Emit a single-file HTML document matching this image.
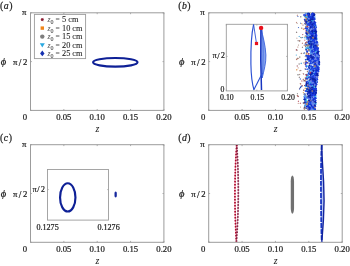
<!DOCTYPE html>
<html><head><meta charset="utf-8"><style>
html,body{margin:0;padding:0;background:#fff;}
svg{display:block;will-change:transform;font-family:"Liberation Serif",serif;}
text{stroke:#222;stroke-width:0.22px;}
</style></head><body>
<svg width="350" height="266" viewBox="0 0 350 266">
<rect width="350" height="266" fill="#fff"/>
<g>
<rect width="350" height="266" fill="#fff"/>
<rect x="30.5" y="12.8" width="133.40" height="97.60" fill="none" stroke="#9c9c9c" stroke-width="1.0"/>
<line x1="30.50" y1="110.4" x2="30.50" y2="109.0" stroke="#9c9c9c" stroke-width="0.8"/>
<line x1="30.50" y1="12.8" x2="30.50" y2="14.200000000000001" stroke="#9c9c9c" stroke-width="0.8"/>
<line x1="63.85" y1="110.4" x2="63.85" y2="109.0" stroke="#9c9c9c" stroke-width="0.8"/>
<line x1="63.85" y1="12.8" x2="63.85" y2="14.200000000000001" stroke="#9c9c9c" stroke-width="0.8"/>
<line x1="97.20" y1="110.4" x2="97.20" y2="109.0" stroke="#9c9c9c" stroke-width="0.8"/>
<line x1="97.20" y1="12.8" x2="97.20" y2="14.200000000000001" stroke="#9c9c9c" stroke-width="0.8"/>
<line x1="130.55" y1="110.4" x2="130.55" y2="109.0" stroke="#9c9c9c" stroke-width="0.8"/>
<line x1="130.55" y1="12.8" x2="130.55" y2="14.200000000000001" stroke="#9c9c9c" stroke-width="0.8"/>
<line x1="163.90" y1="110.4" x2="163.90" y2="109.0" stroke="#9c9c9c" stroke-width="0.8"/>
<line x1="163.90" y1="12.8" x2="163.90" y2="14.200000000000001" stroke="#9c9c9c" stroke-width="0.8"/>
<line x1="30.5" y1="110.40" x2="31.9" y2="110.40" stroke="#9c9c9c" stroke-width="0.8"/>
<line x1="163.9" y1="110.40" x2="162.5" y2="110.40" stroke="#9c9c9c" stroke-width="0.8"/>
<line x1="30.5" y1="61.60" x2="31.9" y2="61.60" stroke="#9c9c9c" stroke-width="0.8"/>
<line x1="163.9" y1="61.60" x2="162.5" y2="61.60" stroke="#9c9c9c" stroke-width="0.8"/>
<line x1="30.5" y1="12.80" x2="31.9" y2="12.80" stroke="#9c9c9c" stroke-width="0.8"/>
<line x1="163.9" y1="12.80" x2="162.5" y2="12.80" stroke="#9c9c9c" stroke-width="0.8"/>
<text x="25.00" y="119.60" text-anchor="middle" font-size="8.7" fill="#1a1a1a" style="" >0</text>
<text x="63.85" y="119.60" text-anchor="middle" font-size="8.7" fill="#1a1a1a" style="" >0.05</text>
<text x="97.20" y="119.60" text-anchor="middle" font-size="8.7" fill="#1a1a1a" style="" >0.10</text>
<text x="130.55" y="119.60" text-anchor="middle" font-size="8.7" fill="#1a1a1a" style="" >0.15</text>
<text x="163.90" y="119.60" text-anchor="middle" font-size="8.7" fill="#1a1a1a" style="" >0.20</text>
<text x="97.50" y="132.30" text-anchor="middle" font-size="9.8" fill="#1a1a1a" style="font-style:italic;stroke-width:0.05px;" >z</text>
<text x="26.50" y="15.00" text-anchor="end" font-size="8.7" fill="#1a1a1a" style="" >π</text>
<text x="13.10" y="65.20" text-anchor="start" font-size="8.7" fill="#1a1a1a" style="" >π</text>
<text x="18.70" y="65.80" text-anchor="start" font-size="9.395999999999999" fill="#1a1a1a" style="" >/</text>
<text x="22.95" y="65.20" text-anchor="start" font-size="8.7" fill="#1a1a1a" style="" >2</text>
<text x="0.70" y="65.40" text-anchor="start" font-size="10.5" fill="#1a1a1a" style="font-style:italic;" >ϕ</text>
<text x="0.00" y="8.80" text-anchor="start" font-size="9.8" fill="#1a1a1a" style="" letter-spacing="0.5">(<tspan style="font-style:italic">a</tspan>)</text>
<rect x="208.7" y="12.8" width="133.50" height="97.60" fill="none" stroke="#9c9c9c" stroke-width="1.0"/>
<line x1="208.70" y1="110.4" x2="208.70" y2="109.0" stroke="#9c9c9c" stroke-width="0.8"/>
<line x1="208.70" y1="12.8" x2="208.70" y2="14.200000000000001" stroke="#9c9c9c" stroke-width="0.8"/>
<line x1="242.07" y1="110.4" x2="242.07" y2="109.0" stroke="#9c9c9c" stroke-width="0.8"/>
<line x1="242.07" y1="12.8" x2="242.07" y2="14.200000000000001" stroke="#9c9c9c" stroke-width="0.8"/>
<line x1="275.45" y1="110.4" x2="275.45" y2="109.0" stroke="#9c9c9c" stroke-width="0.8"/>
<line x1="275.45" y1="12.8" x2="275.45" y2="14.200000000000001" stroke="#9c9c9c" stroke-width="0.8"/>
<line x1="308.82" y1="110.4" x2="308.82" y2="109.0" stroke="#9c9c9c" stroke-width="0.8"/>
<line x1="308.82" y1="12.8" x2="308.82" y2="14.200000000000001" stroke="#9c9c9c" stroke-width="0.8"/>
<line x1="342.20" y1="110.4" x2="342.20" y2="109.0" stroke="#9c9c9c" stroke-width="0.8"/>
<line x1="342.20" y1="12.8" x2="342.20" y2="14.200000000000001" stroke="#9c9c9c" stroke-width="0.8"/>
<line x1="208.7" y1="110.40" x2="210.1" y2="110.40" stroke="#9c9c9c" stroke-width="0.8"/>
<line x1="342.2" y1="110.40" x2="340.8" y2="110.40" stroke="#9c9c9c" stroke-width="0.8"/>
<line x1="208.7" y1="61.60" x2="210.1" y2="61.60" stroke="#9c9c9c" stroke-width="0.8"/>
<line x1="342.2" y1="61.60" x2="340.8" y2="61.60" stroke="#9c9c9c" stroke-width="0.8"/>
<line x1="208.7" y1="12.80" x2="210.1" y2="12.80" stroke="#9c9c9c" stroke-width="0.8"/>
<line x1="342.2" y1="12.80" x2="340.8" y2="12.80" stroke="#9c9c9c" stroke-width="0.8"/>
<text x="203.20" y="119.60" text-anchor="middle" font-size="8.7" fill="#1a1a1a" style="" >0</text>
<text x="242.07" y="119.60" text-anchor="middle" font-size="8.7" fill="#1a1a1a" style="" >0.05</text>
<text x="275.45" y="119.60" text-anchor="middle" font-size="8.7" fill="#1a1a1a" style="" >0.10</text>
<text x="308.82" y="119.60" text-anchor="middle" font-size="8.7" fill="#1a1a1a" style="" >0.15</text>
<text x="342.20" y="119.60" text-anchor="middle" font-size="8.7" fill="#1a1a1a" style="" >0.20</text>
<text x="275.75" y="132.30" text-anchor="middle" font-size="9.8" fill="#1a1a1a" style="font-style:italic;stroke-width:0.05px;" >z</text>
<text x="204.70" y="15.00" text-anchor="end" font-size="8.7" fill="#1a1a1a" style="" >π</text>
<text x="191.30" y="65.20" text-anchor="start" font-size="8.7" fill="#1a1a1a" style="" >π</text>
<text x="196.90" y="65.80" text-anchor="start" font-size="9.395999999999999" fill="#1a1a1a" style="" >/</text>
<text x="201.15" y="65.20" text-anchor="start" font-size="8.7" fill="#1a1a1a" style="" >2</text>
<text x="178.90" y="65.40" text-anchor="start" font-size="10.5" fill="#1a1a1a" style="font-style:italic;" >ϕ</text>
<text x="178.20" y="8.80" text-anchor="start" font-size="9.8" fill="#1a1a1a" style="" letter-spacing="0.5">(<tspan style="font-style:italic">b</tspan>)</text>
<rect x="30.5" y="144.7" width="133.40" height="97.60" fill="none" stroke="#9c9c9c" stroke-width="1.0"/>
<line x1="30.50" y1="242.3" x2="30.50" y2="240.9" stroke="#9c9c9c" stroke-width="0.8"/>
<line x1="30.50" y1="144.7" x2="30.50" y2="146.1" stroke="#9c9c9c" stroke-width="0.8"/>
<line x1="63.85" y1="242.3" x2="63.85" y2="240.9" stroke="#9c9c9c" stroke-width="0.8"/>
<line x1="63.85" y1="144.7" x2="63.85" y2="146.1" stroke="#9c9c9c" stroke-width="0.8"/>
<line x1="97.20" y1="242.3" x2="97.20" y2="240.9" stroke="#9c9c9c" stroke-width="0.8"/>
<line x1="97.20" y1="144.7" x2="97.20" y2="146.1" stroke="#9c9c9c" stroke-width="0.8"/>
<line x1="130.55" y1="242.3" x2="130.55" y2="240.9" stroke="#9c9c9c" stroke-width="0.8"/>
<line x1="130.55" y1="144.7" x2="130.55" y2="146.1" stroke="#9c9c9c" stroke-width="0.8"/>
<line x1="163.90" y1="242.3" x2="163.90" y2="240.9" stroke="#9c9c9c" stroke-width="0.8"/>
<line x1="163.90" y1="144.7" x2="163.90" y2="146.1" stroke="#9c9c9c" stroke-width="0.8"/>
<line x1="30.5" y1="242.30" x2="31.9" y2="242.30" stroke="#9c9c9c" stroke-width="0.8"/>
<line x1="163.9" y1="242.30" x2="162.5" y2="242.30" stroke="#9c9c9c" stroke-width="0.8"/>
<line x1="30.5" y1="193.50" x2="31.9" y2="193.50" stroke="#9c9c9c" stroke-width="0.8"/>
<line x1="163.9" y1="193.50" x2="162.5" y2="193.50" stroke="#9c9c9c" stroke-width="0.8"/>
<line x1="30.5" y1="144.70" x2="31.9" y2="144.70" stroke="#9c9c9c" stroke-width="0.8"/>
<line x1="163.9" y1="144.70" x2="162.5" y2="144.70" stroke="#9c9c9c" stroke-width="0.8"/>
<text x="25.00" y="251.50" text-anchor="middle" font-size="8.7" fill="#1a1a1a" style="" >0</text>
<text x="63.85" y="251.50" text-anchor="middle" font-size="8.7" fill="#1a1a1a" style="" >0.05</text>
<text x="97.20" y="251.50" text-anchor="middle" font-size="8.7" fill="#1a1a1a" style="" >0.10</text>
<text x="130.55" y="251.50" text-anchor="middle" font-size="8.7" fill="#1a1a1a" style="" >0.15</text>
<text x="163.90" y="251.50" text-anchor="middle" font-size="8.7" fill="#1a1a1a" style="" >0.20</text>
<text x="97.50" y="264.20" text-anchor="middle" font-size="9.8" fill="#1a1a1a" style="font-style:italic;stroke-width:0.05px;" >z</text>
<text x="26.50" y="146.90" text-anchor="end" font-size="8.7" fill="#1a1a1a" style="" >π</text>
<text x="13.10" y="197.10" text-anchor="start" font-size="8.7" fill="#1a1a1a" style="" >π</text>
<text x="18.70" y="197.70" text-anchor="start" font-size="9.395999999999999" fill="#1a1a1a" style="" >/</text>
<text x="22.95" y="197.10" text-anchor="start" font-size="8.7" fill="#1a1a1a" style="" >2</text>
<text x="0.70" y="197.30" text-anchor="start" font-size="10.5" fill="#1a1a1a" style="font-style:italic;" >ϕ</text>
<text x="0.00" y="140.70" text-anchor="start" font-size="9.8" fill="#1a1a1a" style="" letter-spacing="0.5">(<tspan style="font-style:italic">c</tspan>)</text>
<rect x="208.7" y="144.7" width="133.50" height="97.60" fill="none" stroke="#9c9c9c" stroke-width="1.0"/>
<line x1="208.70" y1="242.3" x2="208.70" y2="240.9" stroke="#9c9c9c" stroke-width="0.8"/>
<line x1="208.70" y1="144.7" x2="208.70" y2="146.1" stroke="#9c9c9c" stroke-width="0.8"/>
<line x1="242.07" y1="242.3" x2="242.07" y2="240.9" stroke="#9c9c9c" stroke-width="0.8"/>
<line x1="242.07" y1="144.7" x2="242.07" y2="146.1" stroke="#9c9c9c" stroke-width="0.8"/>
<line x1="275.45" y1="242.3" x2="275.45" y2="240.9" stroke="#9c9c9c" stroke-width="0.8"/>
<line x1="275.45" y1="144.7" x2="275.45" y2="146.1" stroke="#9c9c9c" stroke-width="0.8"/>
<line x1="308.82" y1="242.3" x2="308.82" y2="240.9" stroke="#9c9c9c" stroke-width="0.8"/>
<line x1="308.82" y1="144.7" x2="308.82" y2="146.1" stroke="#9c9c9c" stroke-width="0.8"/>
<line x1="342.20" y1="242.3" x2="342.20" y2="240.9" stroke="#9c9c9c" stroke-width="0.8"/>
<line x1="342.20" y1="144.7" x2="342.20" y2="146.1" stroke="#9c9c9c" stroke-width="0.8"/>
<line x1="208.7" y1="242.30" x2="210.1" y2="242.30" stroke="#9c9c9c" stroke-width="0.8"/>
<line x1="342.2" y1="242.30" x2="340.8" y2="242.30" stroke="#9c9c9c" stroke-width="0.8"/>
<line x1="208.7" y1="193.50" x2="210.1" y2="193.50" stroke="#9c9c9c" stroke-width="0.8"/>
<line x1="342.2" y1="193.50" x2="340.8" y2="193.50" stroke="#9c9c9c" stroke-width="0.8"/>
<line x1="208.7" y1="144.70" x2="210.1" y2="144.70" stroke="#9c9c9c" stroke-width="0.8"/>
<line x1="342.2" y1="144.70" x2="340.8" y2="144.70" stroke="#9c9c9c" stroke-width="0.8"/>
<text x="203.20" y="251.50" text-anchor="middle" font-size="8.7" fill="#1a1a1a" style="" >0</text>
<text x="242.07" y="251.50" text-anchor="middle" font-size="8.7" fill="#1a1a1a" style="" >0.05</text>
<text x="275.45" y="251.50" text-anchor="middle" font-size="8.7" fill="#1a1a1a" style="" >0.10</text>
<text x="308.82" y="251.50" text-anchor="middle" font-size="8.7" fill="#1a1a1a" style="" >0.15</text>
<text x="342.20" y="251.50" text-anchor="middle" font-size="8.7" fill="#1a1a1a" style="" >0.20</text>
<text x="275.75" y="264.20" text-anchor="middle" font-size="9.8" fill="#1a1a1a" style="font-style:italic;stroke-width:0.05px;" >z</text>
<text x="204.70" y="146.90" text-anchor="end" font-size="8.7" fill="#1a1a1a" style="" >π</text>
<text x="191.30" y="197.10" text-anchor="start" font-size="8.7" fill="#1a1a1a" style="" >π</text>
<text x="196.90" y="197.70" text-anchor="start" font-size="9.395999999999999" fill="#1a1a1a" style="" >/</text>
<text x="201.15" y="197.10" text-anchor="start" font-size="8.7" fill="#1a1a1a" style="" >2</text>
<text x="178.90" y="197.30" text-anchor="start" font-size="10.5" fill="#1a1a1a" style="font-style:italic;" >ϕ</text>
<text x="178.20" y="140.70" text-anchor="start" font-size="9.8" fill="#1a1a1a" style="" letter-spacing="0.5">(<tspan style="font-style:italic">d</tspan>)</text>
<ellipse cx="115.3" cy="62.3" rx="22.2" ry="4.35" fill="none" stroke="#0e2096" stroke-width="2.15"/>
<rect x="34.4" y="14.4" width="51.2" height="44.2" fill="#fff" stroke="#9c9c9c" stroke-width="0.9"/>
<g stroke="#8a1a30" stroke-width="1"><line x1="40.8" y1="19.6" x2="43.8" y2="19.6"/><line x1="42.3" y1="18.1" x2="42.3" y2="21.1"/><line x1="41.199999999999996" y1="18.5" x2="43.4" y2="20.700000000000003"/><line x1="41.199999999999996" y1="20.700000000000003" x2="43.4" y2="18.5"/></g>
<text x="47.40" y="22.20" text-anchor="start" font-size="7.8" fill="#555" style="font-style:italic;stroke-width:0.0px;" >z</text>
<text x="50.40" y="24.20" text-anchor="start" font-size="6.0" fill="#333" style="stroke-width:0.05px;" >0</text>
<text x="55.40" y="22.20" text-anchor="start" font-size="7.6" fill="#555" style="stroke-width:0.0px;" >=</text>
<text x="62.00" y="22.20" text-anchor="start" font-size="8.3" fill="#1a1a1a" style="stroke-width:0.08px;" >5 cm</text>
<rect x="40.599999999999994" y="26.400000000000002" width="3.4" height="3.4" fill="#f0861c"/>
<text x="47.40" y="30.70" text-anchor="start" font-size="7.8" fill="#555" style="font-style:italic;stroke-width:0.0px;" >z</text>
<text x="50.40" y="32.70" text-anchor="start" font-size="6.0" fill="#333" style="stroke-width:0.05px;" >0</text>
<text x="55.40" y="30.70" text-anchor="start" font-size="7.6" fill="#555" style="stroke-width:0.0px;" >=</text>
<text x="62.00" y="30.70" text-anchor="start" font-size="8.3" fill="#1a1a1a" style="stroke-width:0.08px;" >10 cm</text>
<circle cx="42.3" cy="36.6" r="2.2" fill="#7e7e7e"/>
<text x="47.40" y="39.20" text-anchor="start" font-size="7.8" fill="#555" style="font-style:italic;stroke-width:0.0px;" >z</text>
<text x="50.40" y="41.20" text-anchor="start" font-size="6.0" fill="#333" style="stroke-width:0.05px;" >0</text>
<text x="55.40" y="39.20" text-anchor="start" font-size="7.6" fill="#555" style="stroke-width:0.0px;" >=</text>
<text x="62.00" y="39.20" text-anchor="start" font-size="8.3" fill="#1a1a1a" style="stroke-width:0.08px;" >15 cm</text>
<path d="M39.8,43.300000000000004 L44.8,43.300000000000004 L42.3,47.4 Z" fill="#2aa8e0"/>
<text x="47.40" y="47.70" text-anchor="start" font-size="7.8" fill="#555" style="font-style:italic;stroke-width:0.0px;" >z</text>
<text x="50.40" y="49.70" text-anchor="start" font-size="6.0" fill="#333" style="stroke-width:0.05px;" >0</text>
<text x="55.40" y="47.70" text-anchor="start" font-size="7.6" fill="#555" style="stroke-width:0.0px;" >=</text>
<text x="62.00" y="47.70" text-anchor="start" font-size="8.3" fill="#1a1a1a" style="stroke-width:0.08px;" >20 cm</text>
<path d="M42.3,50.6 L44.5,53.4 L42.3,56.199999999999996 L40.099999999999994,53.4 Z" fill="#1530b0"/>
<text x="47.40" y="56.00" text-anchor="start" font-size="7.8" fill="#555" style="font-style:italic;stroke-width:0.0px;" >z</text>
<text x="50.40" y="58.00" text-anchor="start" font-size="6.0" fill="#333" style="stroke-width:0.05px;" >0</text>
<text x="55.40" y="56.00" text-anchor="start" font-size="7.6" fill="#555" style="stroke-width:0.0px;" >=</text>
<text x="62.00" y="56.00" text-anchor="start" font-size="8.3" fill="#1a1a1a" style="stroke-width:0.08px;" >25 cm</text>
<path d="M316.6,80.0l1.16,1.16l-1.16,1.16l-1.16,-1.16z" fill="#1a3ce0"/>
<path d="M309.8,31.5l1.40,1.40l-1.40,1.40l-1.40,-1.40z" fill="#a08078"/>
<path d="M315.1,86.7l1.24,1.24l-1.24,1.24l-1.24,-1.24z" fill="#6f86e8"/>
<path d="M310.0,65.1l1.15,1.15l-1.15,1.15l-1.15,-1.15z" fill="#1a3ce0"/>
<path d="M309.3,76.8l1.07,1.07l-1.07,1.07l-1.07,-1.07z" fill="#0c22a8"/>
<path d="M308.1,54.5l1.19,1.19l-1.19,1.19l-1.19,-1.19z" fill="#1a3ce0"/>
<path d="M317.4,43.5l1.30,1.30l-1.30,1.30l-1.30,-1.30z" fill="#1a3ce0"/>
<path d="M314.7,82.7l1.23,1.23l-1.23,1.23l-1.23,-1.23z" fill="#1a3ce0"/>
<path d="M312.3,40.1l1.39,1.39l-1.39,1.39l-1.39,-1.39z" fill="#1a3ce0"/>
<path d="M310.6,17.7l1.09,1.09l-1.09,1.09l-1.09,-1.09z" fill="#1a3ce0"/>
<path d="M309.0,48.6l1.04,1.04l-1.04,1.04l-1.04,-1.04z" fill="#1a3ce0"/>
<path d="M314.3,104.0l1.27,1.27l-1.27,1.27l-1.27,-1.27z" fill="#6f86e8"/>
<path d="M309.7,62.7l1.02,1.02l-1.02,1.02l-1.02,-1.02z" fill="#0c22a8"/>
<path d="M305.2,35.3l0.84,0.84l-0.84,0.84l-0.84,-0.84z" fill="#b07060"/>
<path d="M312.0,61.7l1.05,1.05l-1.05,1.05l-1.05,-1.05z" fill="#1a3ce0"/>
<path d="M308.5,90.3l1.05,1.05l-1.05,1.05l-1.05,-1.05z" fill="#a08078"/>
<path d="M311.0,99.6l1.13,1.13l-1.13,1.13l-1.13,-1.13z" fill="#1a3ce0"/>
<path d="M311.5,91.0l1.36,1.36l-1.36,1.36l-1.36,-1.36z" fill="#6f86e8"/>
<path d="M306.6,31.9l1.04,1.04l-1.04,1.04l-1.04,-1.04z" fill="#0c22a8"/>
<path d="M314.8,69.8l1.07,1.07l-1.07,1.07l-1.07,-1.07z" fill="#1a3ce0"/>
<path d="M311.5,68.2l1.21,1.21l-1.21,1.21l-1.21,-1.21z" fill="#0c22a8"/>
<path d="M304.7,96.5l1.11,1.11l-1.11,1.11l-1.11,-1.11z" fill="#1a3ce0"/>
<path d="M297.9,15.7l0.71,0.71l-0.71,0.71l-0.71,-0.71z" fill="#2050c0"/>
<path d="M310.6,57.8l1.12,1.12l-1.12,1.12l-1.12,-1.12z" fill="#5aa0f0"/>
<path d="M313.7,46.1l1.34,1.34l-1.34,1.34l-1.34,-1.34z" fill="#6f86e8"/>
<path d="M312.4,53.7l1.30,1.30l-1.30,1.30l-1.30,-1.30z" fill="#1a3ce0"/>
<path d="M307.0,85.0l1.21,1.21l-1.21,1.21l-1.21,-1.21z" fill="#5a9cf0"/>
<path d="M314.9,24.2l1.26,1.26l-1.26,1.26l-1.26,-1.26z" fill="#1a3ce0"/>
<path d="M310.6,104.6l1.10,1.10l-1.10,1.10l-1.10,-1.10z" fill="#6f86e8"/>
<path d="M309.0,103.1l1.29,1.29l-1.29,1.29l-1.29,-1.29z" fill="#5aa0f0"/>
<path d="M300.8,16.0l0.83,0.83l-0.83,0.83l-0.83,-0.83z" fill="#7a7a7a"/>
<path d="M311.8,98.0l1.27,1.27l-1.27,1.27l-1.27,-1.27z" fill="#1a3ce0"/>
<path d="M314.0,91.3l1.07,1.07l-1.07,1.07l-1.07,-1.07z" fill="#1a3ce0"/>
<path d="M314.0,104.5l1.38,1.38l-1.38,1.38l-1.38,-1.38z" fill="#1a3ce0"/>
<path d="M314.9,62.5l1.31,1.31l-1.31,1.31l-1.31,-1.31z" fill="#1a3ce0"/>
<path d="M305.8,95.2l0.92,0.92l-0.92,0.92l-0.92,-0.92z" fill="#a08078"/>
<path d="M308.6,95.6l1.11,1.11l-1.11,1.11l-1.11,-1.11z" fill="#1a3ce0"/>
<path d="M312.6,25.9l1.30,1.30l-1.30,1.30l-1.30,-1.30z" fill="#1a3ce0"/>
<path d="M307.3,92.4l0.94,0.94l-0.94,0.94l-0.94,-0.94z" fill="#0c22a8"/>
<path d="M312.4,96.0l1.18,1.18l-1.18,1.18l-1.18,-1.18z" fill="#1a3ce0"/>
<path d="M307.1,73.4l1.16,1.16l-1.16,1.16l-1.16,-1.16z" fill="#38c4ea"/>
<path d="M311.2,99.6l1.27,1.27l-1.27,1.27l-1.27,-1.27z" fill="#0c22a8"/>
<path d="M317.3,63.3l1.36,1.36l-1.36,1.36l-1.36,-1.36z" fill="#1a3ce0"/>
<path d="M311.4,30.8l1.34,1.34l-1.34,1.34l-1.34,-1.34z" fill="#1a3ce0"/>
<path d="M315.3,82.1l1.10,1.10l-1.10,1.10l-1.10,-1.10z" fill="#0c22a8"/>
<path d="M314.8,32.4l1.37,1.37l-1.37,1.37l-1.37,-1.37z" fill="#1a3ce0"/>
<path d="M309.5,28.8l1.39,1.39l-1.39,1.39l-1.39,-1.39z" fill="#1a3ce0"/>
<path d="M318.4,50.4l1.13,1.13l-1.13,1.13l-1.13,-1.13z" fill="#0c22a8"/>
<path d="M306.8,36.5l0.98,0.98l-0.98,0.98l-0.98,-0.98z" fill="#a08078"/>
<path d="M314.3,74.8l1.10,1.10l-1.10,1.10l-1.10,-1.10z" fill="#0c22a8"/>
<path d="M313.4,52.7l1.36,1.36l-1.36,1.36l-1.36,-1.36z" fill="#6f86e8"/>
<path d="M311.4,31.2l1.17,1.17l-1.17,1.17l-1.17,-1.17z" fill="#0c22a8"/>
<path d="M315.7,63.1l1.36,1.36l-1.36,1.36l-1.36,-1.36z" fill="#1a3ce0"/>
<path d="M306.5,103.2l1.06,1.06l-1.06,1.06l-1.06,-1.06z" fill="#1a3ce0"/>
<path d="M313.3,94.5l1.15,1.15l-1.15,1.15l-1.15,-1.15z" fill="#1a3ce0"/>
<path d="M310.5,86.9l1.07,1.07l-1.07,1.07l-1.07,-1.07z" fill="#a08078"/>
<path d="M316.1,89.4l1.31,1.31l-1.31,1.31l-1.31,-1.31z" fill="#0c22a8"/>
<path d="M307.9,24.4l0.95,0.95l-0.95,0.95l-0.95,-0.95z" fill="#1a3ce0"/>
<path d="M311.9,17.0l1.28,1.28l-1.28,1.28l-1.28,-1.28z" fill="#1a3ce0"/>
<path d="M316.9,55.3l1.09,1.09l-1.09,1.09l-1.09,-1.09z" fill="#0c22a8"/>
<path d="M312.1,103.7l1.27,1.27l-1.27,1.27l-1.27,-1.27z" fill="#0c22a8"/>
<path d="M306.5,31.6l1.07,1.07l-1.07,1.07l-1.07,-1.07z" fill="#5a9cf0"/>
<path d="M313.1,12.4l1.34,1.34l-1.34,1.34l-1.34,-1.34z" fill="#0c22a8"/>
<path d="M313.7,100.7l1.14,1.14l-1.14,1.14l-1.14,-1.14z" fill="#5aa0f0"/>
<path d="M313.9,33.8l1.23,1.23l-1.23,1.23l-1.23,-1.23z" fill="#5aa0f0"/>
<path d="M315.8,91.9l1.31,1.31l-1.31,1.31l-1.31,-1.31z" fill="#1a3ce0"/>
<path d="M310.3,23.7l1.13,1.13l-1.13,1.13l-1.13,-1.13z" fill="#1a3ce0"/>
<path d="M316.9,72.2l1.27,1.27l-1.27,1.27l-1.27,-1.27z" fill="#0c22a8"/>
<path d="M307.7,89.7l1.11,1.11l-1.11,1.11l-1.11,-1.11z" fill="#8a8a8a"/>
<path d="M304.6,52.2l0.82,0.82l-0.82,0.82l-0.82,-0.82z" fill="#2050c0"/>
<path d="M314.4,72.6l1.05,1.05l-1.05,1.05l-1.05,-1.05z" fill="#0c22a8"/>
<path d="M314.4,95.5l1.21,1.21l-1.21,1.21l-1.21,-1.21z" fill="#1a3ce0"/>
<path d="M314.4,93.9l1.06,1.06l-1.06,1.06l-1.06,-1.06z" fill="#1a3ce0"/>
<path d="M310.4,92.7l1.38,1.38l-1.38,1.38l-1.38,-1.38z" fill="#1a3ce0"/>
<path d="M310.5,36.0l1.38,1.38l-1.38,1.38l-1.38,-1.38z" fill="#1a3ce0"/>
<path d="M314.3,37.1l1.40,1.40l-1.40,1.40l-1.40,-1.40z" fill="#1a3ce0"/>
<path d="M316.0,45.3l1.36,1.36l-1.36,1.36l-1.36,-1.36z" fill="#6f86e8"/>
<path d="M309.7,90.4l1.38,1.38l-1.38,1.38l-1.38,-1.38z" fill="#0c22a8"/>
<path d="M311.7,35.3l1.38,1.38l-1.38,1.38l-1.38,-1.38z" fill="#1a3ce0"/>
<path d="M307.8,13.5l1.13,1.13l-1.13,1.13l-1.13,-1.13z" fill="#6f86e8"/>
<path d="M313.3,98.9l1.36,1.36l-1.36,1.36l-1.36,-1.36z" fill="#1a3ce0"/>
<path d="M314.1,72.0l1.30,1.30l-1.30,1.30l-1.30,-1.30z" fill="#1a3ce0"/>
<path d="M306.2,14.3l0.92,0.92l-0.92,0.92l-0.92,-0.92z" fill="#1a3ce0"/>
<path d="M317.5,73.8l1.19,1.19l-1.19,1.19l-1.19,-1.19z" fill="#0c22a8"/>
<path d="M314.6,30.5l1.23,1.23l-1.23,1.23l-1.23,-1.23z" fill="#1a3ce0"/>
<path d="M314.1,51.5l1.17,1.17l-1.17,1.17l-1.17,-1.17z" fill="#6f86e8"/>
<path d="M304.9,94.7l0.99,0.99l-0.99,0.99l-0.99,-0.99z" fill="#5a9cf0"/>
<path d="M315.7,81.8l1.25,1.25l-1.25,1.25l-1.25,-1.25z" fill="#1a3ce0"/>
<path d="M312.8,25.5l1.13,1.13l-1.13,1.13l-1.13,-1.13z" fill="#0c22a8"/>
<path d="M315.1,46.9l1.12,1.12l-1.12,1.12l-1.12,-1.12z" fill="#0c22a8"/>
<path d="M312.1,38.5l1.27,1.27l-1.27,1.27l-1.27,-1.27z" fill="#5aa0f0"/>
<path d="M312.9,75.3l1.36,1.36l-1.36,1.36l-1.36,-1.36z" fill="#6f86e8"/>
<path d="M311.2,44.3l1.33,1.33l-1.33,1.33l-1.33,-1.33z" fill="#a08078"/>
<path d="M311.9,84.2l1.19,1.19l-1.19,1.19l-1.19,-1.19z" fill="#5aa0f0"/>
<path d="M310.4,23.9l1.20,1.20l-1.20,1.20l-1.20,-1.20z" fill="#1a3ce0"/>
<path d="M299.3,76.5l0.73,0.73l-0.73,0.73l-0.73,-0.73z" fill="#706060"/>
<path d="M306.4,58.7l0.91,0.91l-0.91,0.91l-0.91,-0.91z" fill="#38c4ea"/>
<path d="M308.5,88.1l0.97,0.97l-0.97,0.97l-0.97,-0.97z" fill="#1a3ce0"/>
<path d="M316.3,39.3l1.17,1.17l-1.17,1.17l-1.17,-1.17z" fill="#6f86e8"/>
<path d="M307.3,33.8l1.17,1.17l-1.17,1.17l-1.17,-1.17z" fill="#8a8a8a"/>
<path d="M309.0,98.9l1.19,1.19l-1.19,1.19l-1.19,-1.19z" fill="#6f86e8"/>
<path d="M304.8,107.1l1.03,1.03l-1.03,1.03l-1.03,-1.03z" fill="#1a3ce0"/>
<path d="M310.2,101.3l1.23,1.23l-1.23,1.23l-1.23,-1.23z" fill="#0c22a8"/>
<path d="M312.3,58.2l1.37,1.37l-1.37,1.37l-1.37,-1.37z" fill="#6f86e8"/>
<path d="M312.6,12.3l1.34,1.34l-1.34,1.34l-1.34,-1.34z" fill="#1a3ce0"/>
<path d="M308.6,39.8l0.89,0.89l-0.89,0.89l-0.89,-0.89z" fill="#5a9cf0"/>
<path d="M302.1,85.0l0.83,0.83l-0.83,0.83l-0.83,-0.83z" fill="#8a3040"/>
<path d="M314.8,21.5l1.27,1.27l-1.27,1.27l-1.27,-1.27z" fill="#6f86e8"/>
<path d="M310.5,16.7l1.37,1.37l-1.37,1.37l-1.37,-1.37z" fill="#0c22a8"/>
<path d="M307.3,25.8l0.93,0.93l-0.93,0.93l-0.93,-0.93z" fill="#38c4ea"/>
<path d="M316.3,34.1l1.28,1.28l-1.28,1.28l-1.28,-1.28z" fill="#1a3ce0"/>
<path d="M306.6,99.9l1.24,1.24l-1.24,1.24l-1.24,-1.24z" fill="#38c4ea"/>
<path d="M314.3,33.1l1.30,1.30l-1.30,1.30l-1.30,-1.30z" fill="#1a3ce0"/>
<path d="M313.9,28.5l1.24,1.24l-1.24,1.24l-1.24,-1.24z" fill="#1a3ce0"/>
<path d="M312.9,82.6l1.23,1.23l-1.23,1.23l-1.23,-1.23z" fill="#1a3ce0"/>
<path d="M308.8,65.6l1.06,1.06l-1.06,1.06l-1.06,-1.06z" fill="#1a3ce0"/>
<path d="M315.2,25.6l1.29,1.29l-1.29,1.29l-1.29,-1.29z" fill="#0c22a8"/>
<path d="M311.7,85.7l1.16,1.16l-1.16,1.16l-1.16,-1.16z" fill="#6f86e8"/>
<path d="M314.0,25.1l1.37,1.37l-1.37,1.37l-1.37,-1.37z" fill="#5aa0f0"/>
<path d="M316.8,81.3l1.09,1.09l-1.09,1.09l-1.09,-1.09z" fill="#0c22a8"/>
<path d="M314.4,50.8l1.13,1.13l-1.13,1.13l-1.13,-1.13z" fill="#0c22a8"/>
<path d="M311.8,93.6l1.27,1.27l-1.27,1.27l-1.27,-1.27z" fill="#1a3ce0"/>
<path d="M305.4,68.4l0.75,0.75l-0.75,0.75l-0.75,-0.75z" fill="#2050c0"/>
<path d="M318.4,61.4l1.10,1.10l-1.10,1.10l-1.10,-1.10z" fill="#0c22a8"/>
<path d="M305.5,100.2l1.16,1.16l-1.16,1.16l-1.16,-1.16z" fill="#1a3ce0"/>
<path d="M306.8,88.0l1.06,1.06l-1.06,1.06l-1.06,-1.06z" fill="#0c22a8"/>
<path d="M303.5,28.3l0.87,0.87l-0.87,0.87l-0.87,-0.87z" fill="#e09040"/>
<path d="M300.3,82.9l0.76,0.76l-0.76,0.76l-0.76,-0.76z" fill="#b07060"/>
<path d="M308.3,103.9l1.28,1.28l-1.28,1.28l-1.28,-1.28z" fill="#1a3ce0"/>
<path d="M314.3,27.8l1.26,1.26l-1.26,1.26l-1.26,-1.26z" fill="#1a3ce0"/>
<path d="M313.2,26.9l1.11,1.11l-1.11,1.11l-1.11,-1.11z" fill="#1a3ce0"/>
<path d="M312.5,30.0l1.37,1.37l-1.37,1.37l-1.37,-1.37z" fill="#6f86e8"/>
<path d="M311.3,83.0l1.12,1.12l-1.12,1.12l-1.12,-1.12z" fill="#1a3ce0"/>
<path d="M304.9,84.9l0.63,0.63l-0.63,0.63l-0.63,-0.63z" fill="#706060"/>
<path d="M301.3,52.5l0.88,0.88l-0.88,0.88l-0.88,-0.88z" fill="#a08078"/>
<path d="M311.6,33.5l1.25,1.25l-1.25,1.25l-1.25,-1.25z" fill="#1a3ce0"/>
<path d="M314.3,93.8l1.20,1.20l-1.20,1.20l-1.20,-1.20z" fill="#1a3ce0"/>
<path d="M308.2,74.7l0.94,0.94l-0.94,0.94l-0.94,-0.94z" fill="#a08078"/>
<path d="M315.2,48.8l1.36,1.36l-1.36,1.36l-1.36,-1.36z" fill="#1a3ce0"/>
<path d="M315.9,56.7l1.09,1.09l-1.09,1.09l-1.09,-1.09z" fill="#1a3ce0"/>
<path d="M311.9,40.2l1.12,1.12l-1.12,1.12l-1.12,-1.12z" fill="#0c22a8"/>
<path d="M305.8,54.6l0.94,0.94l-0.94,0.94l-0.94,-0.94z" fill="#5a9cf0"/>
<path d="M313.9,74.1l1.06,1.06l-1.06,1.06l-1.06,-1.06z" fill="#0c22a8"/>
<path d="M315.4,33.2l1.07,1.07l-1.07,1.07l-1.07,-1.07z" fill="#0c22a8"/>
<path d="M314.5,33.4l1.12,1.12l-1.12,1.12l-1.12,-1.12z" fill="#1a3ce0"/>
<path d="M306.9,24.3l0.89,0.89l-0.89,0.89l-0.89,-0.89z" fill="#1a3ce0"/>
<path d="M314.5,86.2l1.11,1.11l-1.11,1.11l-1.11,-1.11z" fill="#0c22a8"/>
<path d="M311.8,82.1l1.17,1.17l-1.17,1.17l-1.17,-1.17z" fill="#5aa0f0"/>
<path d="M307.1,44.1l1.06,1.06l-1.06,1.06l-1.06,-1.06z" fill="#0c22a8"/>
<path d="M316.6,48.1l1.14,1.14l-1.14,1.14l-1.14,-1.14z" fill="#1a3ce0"/>
<path d="M314.6,85.9l1.15,1.15l-1.15,1.15l-1.15,-1.15z" fill="#1a3ce0"/>
<path d="M310.2,33.3l1.27,1.27l-1.27,1.27l-1.27,-1.27z" fill="#1a3ce0"/>
<path d="M311.0,22.7l1.23,1.23l-1.23,1.23l-1.23,-1.23z" fill="#1a3ce0"/>
<path d="M310.5,46.3l1.11,1.11l-1.11,1.11l-1.11,-1.11z" fill="#0c22a8"/>
<path d="M306.5,36.6l0.93,0.93l-0.93,0.93l-0.93,-0.93z" fill="#5a9cf0"/>
<path d="M311.4,74.2l1.31,1.31l-1.31,1.31l-1.31,-1.31z" fill="#5aa0f0"/>
<path d="M309.6,26.2l1.39,1.39l-1.39,1.39l-1.39,-1.39z" fill="#1a3ce0"/>
<path d="M305.4,18.9l0.91,0.91l-0.91,0.91l-0.91,-0.91z" fill="#1a3ce0"/>
<path d="M300.3,102.5l0.73,0.73l-0.73,0.73l-0.73,-0.73z" fill="#b04050"/>
<path d="M311.4,87.8l1.07,1.07l-1.07,1.07l-1.07,-1.07z" fill="#1a3ce0"/>
<path d="M312.3,42.4l1.25,1.25l-1.25,1.25l-1.25,-1.25z" fill="#1a3ce0"/>
<path d="M311.6,105.3l1.38,1.38l-1.38,1.38l-1.38,-1.38z" fill="#0c22a8"/>
<path d="M312.5,55.0l1.30,1.30l-1.30,1.30l-1.30,-1.30z" fill="#1a3ce0"/>
<path d="M310.9,65.1l1.09,1.09l-1.09,1.09l-1.09,-1.09z" fill="#6f86e8"/>
<path d="M315.3,105.2l1.16,1.16l-1.16,1.16l-1.16,-1.16z" fill="#1a3ce0"/>
<path d="M314.3,33.9l1.30,1.30l-1.30,1.30l-1.30,-1.30z" fill="#6f86e8"/>
<path d="M313.9,36.9l1.32,1.32l-1.32,1.32l-1.32,-1.32z" fill="#6f86e8"/>
<path d="M306.1,48.3l0.97,0.97l-0.97,0.97l-0.97,-0.97z" fill="#1a3ce0"/>
<path d="M316.8,49.8l1.21,1.21l-1.21,1.21l-1.21,-1.21z" fill="#1a3ce0"/>
<path d="M307.1,54.7l0.89,0.89l-0.89,0.89l-0.89,-0.89z" fill="#38c4ea"/>
<path d="M315.2,44.7l1.35,1.35l-1.35,1.35l-1.35,-1.35z" fill="#6f86e8"/>
<path d="M311.8,36.8l1.26,1.26l-1.26,1.26l-1.26,-1.26z" fill="#1a3ce0"/>
<path d="M297.4,57.6l0.88,0.88l-0.88,0.88l-0.88,-0.88z" fill="#a08078"/>
<path d="M310.2,36.6l1.09,1.09l-1.09,1.09l-1.09,-1.09z" fill="#0c22a8"/>
<path d="M315.2,78.6l1.33,1.33l-1.33,1.33l-1.33,-1.33z" fill="#1a3ce0"/>
<path d="M309.4,82.2l1.22,1.22l-1.22,1.22l-1.22,-1.22z" fill="#1a3ce0"/>
<path d="M312.2,44.5l1.20,1.20l-1.20,1.20l-1.20,-1.20z" fill="#1a3ce0"/>
<path d="M312.0,71.2l1.13,1.13l-1.13,1.13l-1.13,-1.13z" fill="#1a3ce0"/>
<path d="M310.2,80.6l1.26,1.26l-1.26,1.26l-1.26,-1.26z" fill="#0c22a8"/>
<path d="M310.4,85.1l1.19,1.19l-1.19,1.19l-1.19,-1.19z" fill="#6f86e8"/>
<path d="M312.9,50.6l1.36,1.36l-1.36,1.36l-1.36,-1.36z" fill="#0c22a8"/>
<path d="M305.4,14.6l1.21,1.21l-1.21,1.21l-1.21,-1.21z" fill="#1a3ce0"/>
<path d="M310.6,33.6l1.38,1.38l-1.38,1.38l-1.38,-1.38z" fill="#0c22a8"/>
<path d="M312.9,52.9l1.15,1.15l-1.15,1.15l-1.15,-1.15z" fill="#6f86e8"/>
<path d="M315.5,94.5l1.09,1.09l-1.09,1.09l-1.09,-1.09z" fill="#1a3ce0"/>
<path d="M316.5,52.4l1.25,1.25l-1.25,1.25l-1.25,-1.25z" fill="#6f86e8"/>
<path d="M304.9,92.9l1.23,1.23l-1.23,1.23l-1.23,-1.23z" fill="#1a3ce0"/>
<path d="M314.7,94.4l1.26,1.26l-1.26,1.26l-1.26,-1.26z" fill="#1a3ce0"/>
<path d="M316.6,73.6l1.19,1.19l-1.19,1.19l-1.19,-1.19z" fill="#6f86e8"/>
<path d="M307.5,35.8l1.22,1.22l-1.22,1.22l-1.22,-1.22z" fill="#1a3ce0"/>
<path d="M307.7,55.6l0.94,0.94l-0.94,0.94l-0.94,-0.94z" fill="#8a8a8a"/>
<path d="M310.7,52.2l1.38,1.38l-1.38,1.38l-1.38,-1.38z" fill="#6f86e8"/>
<path d="M308.7,34.8l0.96,0.96l-0.96,0.96l-0.96,-0.96z" fill="#5a9cf0"/>
<path d="M298.1,40.1l0.74,0.74l-0.74,0.74l-0.74,-0.74z" fill="#706060"/>
<path d="M310.1,41.3l0.93,0.93l-0.93,0.93l-0.93,-0.93z" fill="#1a3ce0"/>
<path d="M310.3,24.6l1.10,1.10l-1.10,1.10l-1.10,-1.10z" fill="#1a3ce0"/>
<path d="M307.6,23.0l1.10,1.10l-1.10,1.10l-1.10,-1.10z" fill="#0c22a8"/>
<path d="M307.2,28.6l0.96,0.96l-0.96,0.96l-0.96,-0.96z" fill="#5a9cf0"/>
<path d="M314.4,74.2l1.28,1.28l-1.28,1.28l-1.28,-1.28z" fill="#1a3ce0"/>
<path d="M313.3,52.3l1.34,1.34l-1.34,1.34l-1.34,-1.34z" fill="#a08078"/>
<path d="M306.1,89.8l1.18,1.18l-1.18,1.18l-1.18,-1.18z" fill="#1a3ce0"/>
<path d="M314.1,37.0l1.08,1.08l-1.08,1.08l-1.08,-1.08z" fill="#0c22a8"/>
<path d="M311.9,66.1l1.14,1.14l-1.14,1.14l-1.14,-1.14z" fill="#0c22a8"/>
<path d="M308.2,76.1l1.16,1.16l-1.16,1.16l-1.16,-1.16z" fill="#1a3ce0"/>
<path d="M309.1,21.1l1.06,1.06l-1.06,1.06l-1.06,-1.06z" fill="#1a3ce0"/>
<path d="M310.9,72.8l1.14,1.14l-1.14,1.14l-1.14,-1.14z" fill="#6f86e8"/>
<path d="M310.1,59.8l1.03,1.03l-1.03,1.03l-1.03,-1.03z" fill="#8a8a8a"/>
<path d="M311.4,102.5l1.08,1.08l-1.08,1.08l-1.08,-1.08z" fill="#6f86e8"/>
<path d="M314.3,105.2l1.15,1.15l-1.15,1.15l-1.15,-1.15z" fill="#0c22a8"/>
<path d="M306.8,107.1l1.08,1.08l-1.08,1.08l-1.08,-1.08z" fill="#1a3ce0"/>
<path d="M316.9,40.8l1.38,1.38l-1.38,1.38l-1.38,-1.38z" fill="#0c22a8"/>
<path d="M316.0,88.0l1.14,1.14l-1.14,1.14l-1.14,-1.14z" fill="#1a3ce0"/>
<path d="M314.3,32.0l1.07,1.07l-1.07,1.07l-1.07,-1.07z" fill="#0c22a8"/>
<path d="M310.0,104.1l1.21,1.21l-1.21,1.21l-1.21,-1.21z" fill="#1a3ce0"/>
<path d="M310.3,75.4l1.35,1.35l-1.35,1.35l-1.35,-1.35z" fill="#5aa0f0"/>
<path d="M315.5,83.4l1.22,1.22l-1.22,1.22l-1.22,-1.22z" fill="#5aa0f0"/>
<path d="M305.7,62.3l0.95,0.95l-0.95,0.95l-0.95,-0.95z" fill="#1a3ce0"/>
<path d="M315.4,38.4l1.34,1.34l-1.34,1.34l-1.34,-1.34z" fill="#6f86e8"/>
<path d="M302.8,34.0l0.68,0.68l-0.68,0.68l-0.68,-0.68z" fill="#8a3040"/>
<path d="M311.1,16.6l1.22,1.22l-1.22,1.22l-1.22,-1.22z" fill="#1a3ce0"/>
<path d="M305.7,42.3l0.83,0.83l-0.83,0.83l-0.83,-0.83z" fill="#b07060"/>
<path d="M305.5,21.2l0.88,0.88l-0.88,0.88l-0.88,-0.88z" fill="#0c22a8"/>
<path d="M309.9,91.1l1.34,1.34l-1.34,1.34l-1.34,-1.34z" fill="#0c22a8"/>
<path d="M314.5,98.4l1.34,1.34l-1.34,1.34l-1.34,-1.34z" fill="#0c22a8"/>
<path d="M307.6,61.8l1.03,1.03l-1.03,1.03l-1.03,-1.03z" fill="#c04050"/>
<path d="M313.4,68.7l1.19,1.19l-1.19,1.19l-1.19,-1.19z" fill="#1a3ce0"/>
<path d="M306.5,36.5l1.23,1.23l-1.23,1.23l-1.23,-1.23z" fill="#38c4ea"/>
<path d="M314.3,80.7l1.40,1.40l-1.40,1.40l-1.40,-1.40z" fill="#1a3ce0"/>
<path d="M310.9,49.4l1.09,1.09l-1.09,1.09l-1.09,-1.09z" fill="#1a3ce0"/>
<path d="M317.4,55.0l1.20,1.20l-1.20,1.20l-1.20,-1.20z" fill="#1a3ce0"/>
<path d="M306.4,48.8l0.96,0.96l-0.96,0.96l-0.96,-0.96z" fill="#a08078"/>
<path d="M307.4,38.1l0.99,0.99l-0.99,0.99l-0.99,-0.99z" fill="#5a9cf0"/>
<path d="M313.3,30.5l1.33,1.33l-1.33,1.33l-1.33,-1.33z" fill="#6f86e8"/>
<path d="M307.8,80.6l1.05,1.05l-1.05,1.05l-1.05,-1.05z" fill="#1a3ce0"/>
<path d="M312.3,105.5l1.28,1.28l-1.28,1.28l-1.28,-1.28z" fill="#1a3ce0"/>
<path d="M317.2,75.6l1.40,1.40l-1.40,1.40l-1.40,-1.40z" fill="#a08078"/>
<path d="M302.4,42.5l0.73,0.73l-0.73,0.73l-0.73,-0.73z" fill="#b07060"/>
<path d="M316.6,59.5l1.12,1.12l-1.12,1.12l-1.12,-1.12z" fill="#38c4ea"/>
<path d="M313.8,22.3l1.27,1.27l-1.27,1.27l-1.27,-1.27z" fill="#1a3ce0"/>
<path d="M296.9,37.6l0.60,0.60l-0.60,0.60l-0.60,-0.60z" fill="#a08078"/>
<path d="M311.5,23.2l1.40,1.40l-1.40,1.40l-1.40,-1.40z" fill="#6f86e8"/>
<path d="M309.9,90.1l1.28,1.28l-1.28,1.28l-1.28,-1.28z" fill="#1a3ce0"/>
<path d="M310.2,31.4l1.09,1.09l-1.09,1.09l-1.09,-1.09z" fill="#1a3ce0"/>
<path d="M306.8,75.9l0.88,0.88l-0.88,0.88l-0.88,-0.88z" fill="#1a3ce0"/>
<path d="M299.8,56.2l0.84,0.84l-0.84,0.84l-0.84,-0.84z" fill="#7a7a7a"/>
<path d="M312.6,108.0l1.12,1.12l-1.12,1.12l-1.12,-1.12z" fill="#6f86e8"/>
<path d="M316.3,80.5l1.16,1.16l-1.16,1.16l-1.16,-1.16z" fill="#1a3ce0"/>
<path d="M314.5,73.4l1.07,1.07l-1.07,1.07l-1.07,-1.07z" fill="#1a3ce0"/>
<path d="M314.2,56.5l1.17,1.17l-1.17,1.17l-1.17,-1.17z" fill="#a08078"/>
<path d="M310.6,34.7l1.29,1.29l-1.29,1.29l-1.29,-1.29z" fill="#0c22a8"/>
<path d="M316.0,30.3l1.38,1.38l-1.38,1.38l-1.38,-1.38z" fill="#0c22a8"/>
<path d="M315.5,28.4l1.34,1.34l-1.34,1.34l-1.34,-1.34z" fill="#1a3ce0"/>
<path d="M312.5,85.0l1.40,1.40l-1.40,1.40l-1.40,-1.40z" fill="#1a3ce0"/>
<path d="M309.5,106.2l1.29,1.29l-1.29,1.29l-1.29,-1.29z" fill="#6f86e8"/>
<path d="M307.1,41.1l1.07,1.07l-1.07,1.07l-1.07,-1.07z" fill="#1a3ce0"/>
<path d="M312.6,100.1l1.37,1.37l-1.37,1.37l-1.37,-1.37z" fill="#6f86e8"/>
<path d="M309.5,86.8l1.39,1.39l-1.39,1.39l-1.39,-1.39z" fill="#0c22a8"/>
<path d="M305.8,13.0l0.94,0.94l-0.94,0.94l-0.94,-0.94z" fill="#1a3ce0"/>
<path d="M314.4,18.2l1.31,1.31l-1.31,1.31l-1.31,-1.31z" fill="#1a3ce0"/>
<path d="M310.9,36.8l1.17,1.17l-1.17,1.17l-1.17,-1.17z" fill="#0c22a8"/>
<path d="M313.2,82.8l1.17,1.17l-1.17,1.17l-1.17,-1.17z" fill="#1a3ce0"/>
<path d="M310.1,30.6l1.12,1.12l-1.12,1.12l-1.12,-1.12z" fill="#1a3ce0"/>
<path d="M310.0,79.1l1.15,1.15l-1.15,1.15l-1.15,-1.15z" fill="#0c22a8"/>
<path d="M309.7,46.2l1.08,1.08l-1.08,1.08l-1.08,-1.08z" fill="#1a3ce0"/>
<path d="M306.4,80.7l0.97,0.97l-0.97,0.97l-0.97,-0.97z" fill="#1a3ce0"/>
<path d="M311.8,25.3l1.23,1.23l-1.23,1.23l-1.23,-1.23z" fill="#1a3ce0"/>
<path d="M314.3,13.5l1.14,1.14l-1.14,1.14l-1.14,-1.14z" fill="#0c22a8"/>
<path d="M297.2,65.3l0.70,0.70l-0.70,0.70l-0.70,-0.70z" fill="#8a3040"/>
<path d="M304.5,106.3l0.90,0.90l-0.90,0.90l-0.90,-0.90z" fill="#a08078"/>
<path d="M296.5,21.7l0.71,0.71l-0.71,0.71l-0.71,-0.71z" fill="#b07060"/>
<path d="M307.6,18.4l1.05,1.05l-1.05,1.05l-1.05,-1.05z" fill="#1a3ce0"/>
<path d="M311.6,102.1l1.14,1.14l-1.14,1.14l-1.14,-1.14z" fill="#1a3ce0"/>
<path d="M314.9,42.0l1.21,1.21l-1.21,1.21l-1.21,-1.21z" fill="#38c4ea"/>
<path d="M315.0,108.0l1.15,1.15l-1.15,1.15l-1.15,-1.15z" fill="#0c22a8"/>
<path d="M307.1,96.0l0.96,0.96l-0.96,0.96l-0.96,-0.96z" fill="#a08078"/>
<path d="M315.9,72.9l1.36,1.36l-1.36,1.36l-1.36,-1.36z" fill="#6f86e8"/>
<path d="M306.4,31.0l1.22,1.22l-1.22,1.22l-1.22,-1.22z" fill="#1a3ce0"/>
<path d="M310.6,25.7l1.21,1.21l-1.21,1.21l-1.21,-1.21z" fill="#1a3ce0"/>
<path d="M315.9,91.2l1.16,1.16l-1.16,1.16l-1.16,-1.16z" fill="#0c22a8"/>
<path d="M317.9,54.9l1.26,1.26l-1.26,1.26l-1.26,-1.26z" fill="#1a3ce0"/>
<path d="M309.3,89.0l1.09,1.09l-1.09,1.09l-1.09,-1.09z" fill="#1a3ce0"/>
<path d="M312.3,59.5l1.11,1.11l-1.11,1.11l-1.11,-1.11z" fill="#6f86e8"/>
<path d="M312.7,16.2l1.10,1.10l-1.10,1.10l-1.10,-1.10z" fill="#1a3ce0"/>
<path d="M310.5,24.2l1.15,1.15l-1.15,1.15l-1.15,-1.15z" fill="#0c22a8"/>
<path d="M306.6,52.8l1.08,1.08l-1.08,1.08l-1.08,-1.08z" fill="#d09050"/>
<path d="M318.4,58.0l1.36,1.36l-1.36,1.36l-1.36,-1.36z" fill="#0c22a8"/>
<path d="M310.6,84.9l1.28,1.28l-1.28,1.28l-1.28,-1.28z" fill="#0c22a8"/>
<path d="M301.8,27.3l0.84,0.84l-0.84,0.84l-0.84,-0.84z" fill="#b07060"/>
<path d="M308.0,58.2l1.17,1.17l-1.17,1.17l-1.17,-1.17z" fill="#0c22a8"/>
<path d="M316.1,83.2l1.07,1.07l-1.07,1.07l-1.07,-1.07z" fill="#0c22a8"/>
<path d="M312.6,83.9l1.32,1.32l-1.32,1.32l-1.32,-1.32z" fill="#1a3ce0"/>
<path d="M310.5,73.3l1.24,1.24l-1.24,1.24l-1.24,-1.24z" fill="#6f86e8"/>
<path d="M312.5,41.3l1.11,1.11l-1.11,1.11l-1.11,-1.11z" fill="#1a3ce0"/>
<path d="M306.1,61.3l1.14,1.14l-1.14,1.14l-1.14,-1.14z" fill="#1a3ce0"/>
<path d="M309.1,42.5l1.05,1.05l-1.05,1.05l-1.05,-1.05z" fill="#5a9cf0"/>
<path d="M308.5,12.6l1.25,1.25l-1.25,1.25l-1.25,-1.25z" fill="#1a3ce0"/>
<path d="M318.3,59.5l1.33,1.33l-1.33,1.33l-1.33,-1.33z" fill="#1a3ce0"/>
<path d="M307.9,28.1l0.94,0.94l-0.94,0.94l-0.94,-0.94z" fill="#5a9cf0"/>
<path d="M312.7,76.4l1.25,1.25l-1.25,1.25l-1.25,-1.25z" fill="#1a3ce0"/>
<path d="M313.2,16.2l1.13,1.13l-1.13,1.13l-1.13,-1.13z" fill="#1a3ce0"/>
<path d="M318.7,62.0l1.14,1.14l-1.14,1.14l-1.14,-1.14z" fill="#5aa0f0"/>
<path d="M315.8,86.9l1.26,1.26l-1.26,1.26l-1.26,-1.26z" fill="#1a3ce0"/>
<path d="M310.1,90.5l1.22,1.22l-1.22,1.22l-1.22,-1.22z" fill="#1a3ce0"/>
<path d="M304.5,106.3l0.91,0.91l-0.91,0.91l-0.91,-0.91z" fill="#0c22a8"/>
<path d="M315.5,65.0l1.34,1.34l-1.34,1.34l-1.34,-1.34z" fill="#1a3ce0"/>
<path d="M297.4,93.1l0.64,0.64l-0.64,0.64l-0.64,-0.64z" fill="#7a7a7a"/>
<path d="M309.8,16.4l1.24,1.24l-1.24,1.24l-1.24,-1.24z" fill="#1a3ce0"/>
<path d="M312.4,40.2l1.24,1.24l-1.24,1.24l-1.24,-1.24z" fill="#1a3ce0"/>
<path d="M312.7,89.9l1.33,1.33l-1.33,1.33l-1.33,-1.33z" fill="#0c22a8"/>
<path d="M305.5,97.5l1.13,1.13l-1.13,1.13l-1.13,-1.13z" fill="#1a3ce0"/>
<path d="M306.8,55.0l1.12,1.12l-1.12,1.12l-1.12,-1.12z" fill="#a08078"/>
<path d="M306.7,21.3l0.96,0.96l-0.96,0.96l-0.96,-0.96z" fill="#0c22a8"/>
<path d="M313.7,28.2l1.32,1.32l-1.32,1.32l-1.32,-1.32z" fill="#0c22a8"/>
<path d="M311.7,46.9l1.24,1.24l-1.24,1.24l-1.24,-1.24z" fill="#5aa0f0"/>
<path d="M315.8,83.3l1.06,1.06l-1.06,1.06l-1.06,-1.06z" fill="#1a3ce0"/>
<path d="M311.9,69.1l1.34,1.34l-1.34,1.34l-1.34,-1.34z" fill="#0c22a8"/>
<path d="M307.0,51.2l1.09,1.09l-1.09,1.09l-1.09,-1.09z" fill="#a08078"/>
<path d="M304.1,93.2l0.86,0.86l-0.86,0.86l-0.86,-0.86z" fill="#3aa0d8"/>
<path d="M309.2,107.4l1.15,1.15l-1.15,1.15l-1.15,-1.15z" fill="#6f86e8"/>
<path d="M315.7,55.2l1.31,1.31l-1.31,1.31l-1.31,-1.31z" fill="#5aa0f0"/>
<path d="M313.1,99.4l1.35,1.35l-1.35,1.35l-1.35,-1.35z" fill="#6f86e8"/>
<path d="M316.5,76.6l1.17,1.17l-1.17,1.17l-1.17,-1.17z" fill="#1a3ce0"/>
<path d="M311.6,53.0l1.19,1.19l-1.19,1.19l-1.19,-1.19z" fill="#0c22a8"/>
<path d="M300.7,36.7l0.72,0.72l-0.72,0.72l-0.72,-0.72z" fill="#a08078"/>
<path d="M315.0,48.4l1.13,1.13l-1.13,1.13l-1.13,-1.13z" fill="#1a3ce0"/>
<path d="M311.6,41.2l1.27,1.27l-1.27,1.27l-1.27,-1.27z" fill="#1a3ce0"/>
<path d="M307.9,54.8l1.18,1.18l-1.18,1.18l-1.18,-1.18z" fill="#1a3ce0"/>
<path d="M307.4,56.8l1.15,1.15l-1.15,1.15l-1.15,-1.15z" fill="#0c22a8"/>
<path d="M313.5,22.7l1.22,1.22l-1.22,1.22l-1.22,-1.22z" fill="#0c22a8"/>
<path d="M308.7,105.2l1.07,1.07l-1.07,1.07l-1.07,-1.07z" fill="#0c22a8"/>
<path d="M313.5,100.1l1.07,1.07l-1.07,1.07l-1.07,-1.07z" fill="#6f86e8"/>
<path d="M309.1,96.0l1.19,1.19l-1.19,1.19l-1.19,-1.19z" fill="#1a3ce0"/>
<path d="M316.5,58.3l1.10,1.10l-1.10,1.10l-1.10,-1.10z" fill="#6f86e8"/>
<path d="M309.8,106.4l1.37,1.37l-1.37,1.37l-1.37,-1.37z" fill="#38c4ea"/>
<path d="M298.5,26.9l0.67,0.67l-0.67,0.67l-0.67,-0.67z" fill="#2050c0"/>
<path d="M311.5,88.1l1.36,1.36l-1.36,1.36l-1.36,-1.36z" fill="#0c22a8"/>
<path d="M304.3,37.0l0.73,0.73l-0.73,0.73l-0.73,-0.73z" fill="#3aa0d8"/>
<path d="M312.0,80.7l1.35,1.35l-1.35,1.35l-1.35,-1.35z" fill="#1a3ce0"/>
<path d="M309.9,38.9l1.13,1.13l-1.13,1.13l-1.13,-1.13z" fill="#1a3ce0"/>
<path d="M311.1,93.2l1.12,1.12l-1.12,1.12l-1.12,-1.12z" fill="#0c22a8"/>
<path d="M311.7,38.9l1.20,1.20l-1.20,1.20l-1.20,-1.20z" fill="#0c22a8"/>
<path d="M311.9,72.1l1.33,1.33l-1.33,1.33l-1.33,-1.33z" fill="#0c22a8"/>
<path d="M311.1,104.1l1.21,1.21l-1.21,1.21l-1.21,-1.21z" fill="#1a3ce0"/>
<path d="M313.9,37.9l1.06,1.06l-1.06,1.06l-1.06,-1.06z" fill="#a08078"/>
<path d="M308.6,56.3l1.01,1.01l-1.01,1.01l-1.01,-1.01z" fill="#0c22a8"/>
<path d="M314.8,60.2l1.15,1.15l-1.15,1.15l-1.15,-1.15z" fill="#0c22a8"/>
<path d="M318.1,56.5l1.38,1.38l-1.38,1.38l-1.38,-1.38z" fill="#1a3ce0"/>
<path d="M312.9,12.6l1.12,1.12l-1.12,1.12l-1.12,-1.12z" fill="#0c22a8"/>
<path d="M307.7,22.5l0.89,0.89l-0.89,0.89l-0.89,-0.89z" fill="#1a3ce0"/>
<path d="M314.7,41.3l1.26,1.26l-1.26,1.26l-1.26,-1.26z" fill="#1a3ce0"/>
<path d="M312.9,12.4l1.15,1.15l-1.15,1.15l-1.15,-1.15z" fill="#6f86e8"/>
<path d="M312.2,35.3l1.06,1.06l-1.06,1.06l-1.06,-1.06z" fill="#1a3ce0"/>
<path d="M313.8,65.4l1.09,1.09l-1.09,1.09l-1.09,-1.09z" fill="#0c22a8"/>
<path d="M313.0,72.6l1.29,1.29l-1.29,1.29l-1.29,-1.29z" fill="#5aa0f0"/>
<path d="M313.8,105.0l1.25,1.25l-1.25,1.25l-1.25,-1.25z" fill="#0c22a8"/>
<path d="M313.4,13.0l1.21,1.21l-1.21,1.21l-1.21,-1.21z" fill="#0c22a8"/>
<path d="M309.0,18.5l1.35,1.35l-1.35,1.35l-1.35,-1.35z" fill="#0c22a8"/>
<path d="M314.4,107.5l1.10,1.10l-1.10,1.10l-1.10,-1.10z" fill="#1a3ce0"/>
<path d="M316.8,77.0l1.28,1.28l-1.28,1.28l-1.28,-1.28z" fill="#1a3ce0"/>
<path d="M310.9,89.8l1.32,1.32l-1.32,1.32l-1.32,-1.32z" fill="#1a3ce0"/>
<path d="M311.7,84.5l1.29,1.29l-1.29,1.29l-1.29,-1.29z" fill="#1a3ce0"/>
<path d="M307.0,35.7l1.12,1.12l-1.12,1.12l-1.12,-1.12z" fill="#a08078"/>
<path d="M315.4,95.3l1.27,1.27l-1.27,1.27l-1.27,-1.27z" fill="#38c4ea"/>
<path d="M308.6,94.6l1.36,1.36l-1.36,1.36l-1.36,-1.36z" fill="#1a3ce0"/>
<path d="M306.7,101.9l1.04,1.04l-1.04,1.04l-1.04,-1.04z" fill="#38c4ea"/>
<path d="M313.1,49.4l1.12,1.12l-1.12,1.12l-1.12,-1.12z" fill="#5aa0f0"/>
<path d="M309.3,19.1l1.06,1.06l-1.06,1.06l-1.06,-1.06z" fill="#0c22a8"/>
<path d="M304.8,39.5l0.64,0.64l-0.64,0.64l-0.64,-0.64z" fill="#b04050"/>
<path d="M314.3,90.4l1.05,1.05l-1.05,1.05l-1.05,-1.05z" fill="#1a3ce0"/>
<path d="M316.6,69.6l1.05,1.05l-1.05,1.05l-1.05,-1.05z" fill="#6f86e8"/>
<path d="M311.1,97.7l1.19,1.19l-1.19,1.19l-1.19,-1.19z" fill="#5aa0f0"/>
<path d="M316.0,47.7l1.25,1.25l-1.25,1.25l-1.25,-1.25z" fill="#6f86e8"/>
<path d="M309.0,108.0l1.33,1.33l-1.33,1.33l-1.33,-1.33z" fill="#0c22a8"/>
<path d="M308.6,79.4l1.20,1.20l-1.20,1.20l-1.20,-1.20z" fill="#5a9cf0"/>
<path d="M310.3,73.3l1.19,1.19l-1.19,1.19l-1.19,-1.19z" fill="#0c22a8"/>
<path d="M313.1,12.9l1.21,1.21l-1.21,1.21l-1.21,-1.21z" fill="#0c22a8"/>
<path d="M312.3,33.9l1.12,1.12l-1.12,1.12l-1.12,-1.12z" fill="#0c22a8"/>
<path d="M298.1,95.6l0.83,0.83l-0.83,0.83l-0.83,-0.83z" fill="#8a3040"/>
<path d="M306.8,22.5l1.25,1.25l-1.25,1.25l-1.25,-1.25z" fill="#5a9cf0"/>
<path d="M312.6,79.0l1.21,1.21l-1.21,1.21l-1.21,-1.21z" fill="#0c22a8"/>
<path d="M312.6,26.0l1.40,1.40l-1.40,1.40l-1.40,-1.40z" fill="#1a3ce0"/>
<path d="M307.7,105.5l1.02,1.02l-1.02,1.02l-1.02,-1.02z" fill="#1a3ce0"/>
<path d="M313.7,92.6l1.17,1.17l-1.17,1.17l-1.17,-1.17z" fill="#1a3ce0"/>
<path d="M318.8,60.1l1.40,1.40l-1.40,1.40l-1.40,-1.40z" fill="#0c22a8"/>
<path d="M313.5,90.4l1.06,1.06l-1.06,1.06l-1.06,-1.06z" fill="#1a3ce0"/>
<path d="M313.3,16.2l1.35,1.35l-1.35,1.35l-1.35,-1.35z" fill="#6f86e8"/>
<path d="M310.6,108.4l1.11,1.11l-1.11,1.11l-1.11,-1.11z" fill="#6f86e8"/>
<path d="M309.9,14.7l1.35,1.35l-1.35,1.35l-1.35,-1.35z" fill="#38c4ea"/>
<path d="M305.9,34.7l0.61,0.61l-0.61,0.61l-0.61,-0.61z" fill="#3aa0d8"/>
<path d="M306.4,16.6l1.02,1.02l-1.02,1.02l-1.02,-1.02z" fill="#0c22a8"/>
<path d="M314.9,84.2l1.09,1.09l-1.09,1.09l-1.09,-1.09z" fill="#0c22a8"/>
<path d="M309.6,21.3l1.28,1.28l-1.28,1.28l-1.28,-1.28z" fill="#a08078"/>
<path d="M315.5,77.6l1.18,1.18l-1.18,1.18l-1.18,-1.18z" fill="#1a3ce0"/>
<path d="M315.6,25.5l1.38,1.38l-1.38,1.38l-1.38,-1.38z" fill="#6f86e8"/>
<path d="M312.5,33.8l1.16,1.16l-1.16,1.16l-1.16,-1.16z" fill="#1a3ce0"/>
<path d="M311.9,88.5l1.07,1.07l-1.07,1.07l-1.07,-1.07z" fill="#1a3ce0"/>
<path d="M313.5,38.0l1.29,1.29l-1.29,1.29l-1.29,-1.29z" fill="#0c22a8"/>
<path d="M306.3,29.8l1.11,1.11l-1.11,1.11l-1.11,-1.11z" fill="#c04050"/>
<path d="M311.6,67.6l1.10,1.10l-1.10,1.10l-1.10,-1.10z" fill="#0c22a8"/>
<path d="M307.6,90.4l1.19,1.19l-1.19,1.19l-1.19,-1.19z" fill="#0c22a8"/>
<path d="M312.3,101.3l1.15,1.15l-1.15,1.15l-1.15,-1.15z" fill="#5aa0f0"/>
<path d="M308.4,43.9l1.00,1.00l-1.00,1.00l-1.00,-1.00z" fill="#0c22a8"/>
<path d="M308.5,105.7l1.19,1.19l-1.19,1.19l-1.19,-1.19z" fill="#1a3ce0"/>
<path d="M311.5,104.8l1.28,1.28l-1.28,1.28l-1.28,-1.28z" fill="#0c22a8"/>
<path d="M309.6,86.6l1.31,1.31l-1.31,1.31l-1.31,-1.31z" fill="#5aa0f0"/>
<path d="M314.1,60.4l1.33,1.33l-1.33,1.33l-1.33,-1.33z" fill="#0c22a8"/>
<path d="M315.6,31.7l1.07,1.07l-1.07,1.07l-1.07,-1.07z" fill="#0c22a8"/>
<path d="M307.8,45.9l0.91,0.91l-0.91,0.91l-0.91,-0.91z" fill="#c04050"/>
<path d="M311.1,77.4l1.28,1.28l-1.28,1.28l-1.28,-1.28z" fill="#1a3ce0"/>
<path d="M315.3,92.9l1.28,1.28l-1.28,1.28l-1.28,-1.28z" fill="#0c22a8"/>
<path d="M310.2,75.7l1.39,1.39l-1.39,1.39l-1.39,-1.39z" fill="#1a3ce0"/>
<path d="M305.2,87.4l0.91,0.91l-0.91,0.91l-0.91,-0.91z" fill="#d09050"/>
<path d="M316.9,81.0l1.20,1.20l-1.20,1.20l-1.20,-1.20z" fill="#1a3ce0"/>
<path d="M310.4,97.6l1.35,1.35l-1.35,1.35l-1.35,-1.35z" fill="#1a3ce0"/>
<path d="M315.8,70.5l1.36,1.36l-1.36,1.36l-1.36,-1.36z" fill="#0c22a8"/>
<path d="M312.0,18.3l1.30,1.30l-1.30,1.30l-1.30,-1.30z" fill="#0c22a8"/>
<path d="M307.6,29.8l1.21,1.21l-1.21,1.21l-1.21,-1.21z" fill="#38c4ea"/>
<path d="M308.0,43.5l1.06,1.06l-1.06,1.06l-1.06,-1.06z" fill="#1a3ce0"/>
<path d="M310.5,99.5l1.35,1.35l-1.35,1.35l-1.35,-1.35z" fill="#6f86e8"/>
<path d="M309.4,40.4l1.20,1.20l-1.20,1.20l-1.20,-1.20z" fill="#c04050"/>
<path d="M319.1,63.3l1.19,1.19l-1.19,1.19l-1.19,-1.19z" fill="#0c22a8"/>
<path d="M310.5,54.8l1.15,1.15l-1.15,1.15l-1.15,-1.15z" fill="#0c22a8"/>
<path d="M313.3,99.7l1.34,1.34l-1.34,1.34l-1.34,-1.34z" fill="#0c22a8"/>
<path d="M309.6,15.2l1.07,1.07l-1.07,1.07l-1.07,-1.07z" fill="#1a3ce0"/>
<path d="M305.8,25.8l0.97,0.97l-0.97,0.97l-0.97,-0.97z" fill="#a08078"/>
<path d="M318.5,54.9l1.28,1.28l-1.28,1.28l-1.28,-1.28z" fill="#1a3ce0"/>
<path d="M310.7,45.1l1.17,1.17l-1.17,1.17l-1.17,-1.17z" fill="#6f86e8"/>
<path d="M312.6,31.8l1.34,1.34l-1.34,1.34l-1.34,-1.34z" fill="#5aa0f0"/>
<path d="M313.4,72.5l1.33,1.33l-1.33,1.33l-1.33,-1.33z" fill="#5aa0f0"/>
<path d="M309.9,22.4l1.15,1.15l-1.15,1.15l-1.15,-1.15z" fill="#0c22a8"/>
<path d="M307.1,74.2l0.94,0.94l-0.94,0.94l-0.94,-0.94z" fill="#5a9cf0"/>
<path d="M309.2,22.0l1.27,1.27l-1.27,1.27l-1.27,-1.27z" fill="#0c22a8"/>
<path d="M300.8,69.8l0.77,0.77l-0.77,0.77l-0.77,-0.77z" fill="#7a7a7a"/>
<path d="M308.4,80.2l0.86,0.86l-0.86,0.86l-0.86,-0.86z" fill="#5a9cf0"/>
<path d="M316.8,62.6l1.17,1.17l-1.17,1.17l-1.17,-1.17z" fill="#6f86e8"/>
<path d="M314.0,52.8l1.24,1.24l-1.24,1.24l-1.24,-1.24z" fill="#1a3ce0"/>
<path d="M309.0,88.8l1.27,1.27l-1.27,1.27l-1.27,-1.27z" fill="#0c22a8"/>
<path d="M315.7,38.0l1.16,1.16l-1.16,1.16l-1.16,-1.16z" fill="#0c22a8"/>
<path d="M299.6,40.2l0.77,0.77l-0.77,0.77l-0.77,-0.77z" fill="#706060"/>
<path d="M304.6,84.7l0.68,0.68l-0.68,0.68l-0.68,-0.68z" fill="#8a3040"/>
<path d="M314.4,27.1l1.31,1.31l-1.31,1.31l-1.31,-1.31z" fill="#0c22a8"/>
<path d="M306.6,29.2l1.04,1.04l-1.04,1.04l-1.04,-1.04z" fill="#1a3ce0"/>
<path d="M313.8,80.5l1.34,1.34l-1.34,1.34l-1.34,-1.34z" fill="#1a3ce0"/>
<path d="M307.7,57.4l1.00,1.00l-1.00,1.00l-1.00,-1.00z" fill="#5a9cf0"/>
<path d="M314.5,104.5l1.31,1.31l-1.31,1.31l-1.31,-1.31z" fill="#1a3ce0"/>
<path d="M307.1,68.3l1.03,1.03l-1.03,1.03l-1.03,-1.03z" fill="#1a3ce0"/>
<path d="M310.1,94.9l1.38,1.38l-1.38,1.38l-1.38,-1.38z" fill="#1a3ce0"/>
<path d="M312.5,52.1l1.17,1.17l-1.17,1.17l-1.17,-1.17z" fill="#1a3ce0"/>
<path d="M311.0,59.5l1.23,1.23l-1.23,1.23l-1.23,-1.23z" fill="#0c22a8"/>
<path d="M315.3,30.5l1.28,1.28l-1.28,1.28l-1.28,-1.28z" fill="#1a3ce0"/>
<path d="M313.4,22.3l1.37,1.37l-1.37,1.37l-1.37,-1.37z" fill="#6f86e8"/>
<path d="M310.0,106.4l1.36,1.36l-1.36,1.36l-1.36,-1.36z" fill="#0c22a8"/>
<path d="M312.3,16.9l1.31,1.31l-1.31,1.31l-1.31,-1.31z" fill="#0c22a8"/>
<path d="M308.3,14.4l1.05,1.05l-1.05,1.05l-1.05,-1.05z" fill="#1a3ce0"/>
<path d="M310.7,98.4l1.29,1.29l-1.29,1.29l-1.29,-1.29z" fill="#1a3ce0"/>
<path d="M311.3,31.7l1.14,1.14l-1.14,1.14l-1.14,-1.14z" fill="#1a3ce0"/>
<path d="M313.2,57.2l1.39,1.39l-1.39,1.39l-1.39,-1.39z" fill="#1a3ce0"/>
<path d="M313.6,59.1l1.33,1.33l-1.33,1.33l-1.33,-1.33z" fill="#1a3ce0"/>
<path d="M306.8,89.1l1.07,1.07l-1.07,1.07l-1.07,-1.07z" fill="#38c4ea"/>
<path d="M317.0,56.9l1.31,1.31l-1.31,1.31l-1.31,-1.31z" fill="#1a3ce0"/>
<path d="M312.3,58.2l1.36,1.36l-1.36,1.36l-1.36,-1.36z" fill="#1a3ce0"/>
<path d="M310.7,50.2l1.14,1.14l-1.14,1.14l-1.14,-1.14z" fill="#38c4ea"/>
<path d="M309.8,106.0l1.22,1.22l-1.22,1.22l-1.22,-1.22z" fill="#1a3ce0"/>
<path d="M314.8,50.9l1.22,1.22l-1.22,1.22l-1.22,-1.22z" fill="#6f86e8"/>
<path d="M312.0,72.0l1.38,1.38l-1.38,1.38l-1.38,-1.38z" fill="#1a3ce0"/>
<path d="M314.5,22.8l1.34,1.34l-1.34,1.34l-1.34,-1.34z" fill="#0c22a8"/>
<path d="M310.1,77.7l1.13,1.13l-1.13,1.13l-1.13,-1.13z" fill="#0c22a8"/>
<path d="M315.7,47.5l1.35,1.35l-1.35,1.35l-1.35,-1.35z" fill="#6f86e8"/>
<path d="M309.4,77.9l1.05,1.05l-1.05,1.05l-1.05,-1.05z" fill="#a08078"/>
<path d="M305.8,85.1l1.09,1.09l-1.09,1.09l-1.09,-1.09z" fill="#1a3ce0"/>
<path d="M315.0,23.4l1.10,1.10l-1.10,1.10l-1.10,-1.10z" fill="#38c4ea"/>
<path d="M304.8,19.5l0.88,0.88l-0.88,0.88l-0.88,-0.88z" fill="#a08078"/>
<path d="M310.8,107.3l1.32,1.32l-1.32,1.32l-1.32,-1.32z" fill="#1a3ce0"/>
<path d="M314.5,90.6l1.30,1.30l-1.30,1.30l-1.30,-1.30z" fill="#1a3ce0"/>
<path d="M313.7,61.3l1.35,1.35l-1.35,1.35l-1.35,-1.35z" fill="#1a3ce0"/>
<path d="M311.1,100.6l1.33,1.33l-1.33,1.33l-1.33,-1.33z" fill="#0c22a8"/>
<path d="M318.1,55.1l1.27,1.27l-1.27,1.27l-1.27,-1.27z" fill="#5aa0f0"/>
<path d="M315.1,26.5l1.30,1.30l-1.30,1.30l-1.30,-1.30z" fill="#0c22a8"/>
<path d="M315.0,62.0l1.18,1.18l-1.18,1.18l-1.18,-1.18z" fill="#1a3ce0"/>
<path d="M312.4,42.4l1.22,1.22l-1.22,1.22l-1.22,-1.22z" fill="#1a3ce0"/>
<path d="M297.4,94.8l0.81,0.81l-0.81,0.81l-0.81,-0.81z" fill="#b07060"/>
<path d="M309.5,67.3l1.12,1.12l-1.12,1.12l-1.12,-1.12z" fill="#a08078"/>
<path d="M314.5,34.5l1.34,1.34l-1.34,1.34l-1.34,-1.34z" fill="#0c22a8"/>
<path d="M312.1,62.5l1.10,1.10l-1.10,1.10l-1.10,-1.10z" fill="#1a3ce0"/>
<path d="M314.5,58.4l1.08,1.08l-1.08,1.08l-1.08,-1.08z" fill="#6f86e8"/>
<path d="M315.1,61.4l1.24,1.24l-1.24,1.24l-1.24,-1.24z" fill="#0c22a8"/>
<path d="M310.5,72.6l1.19,1.19l-1.19,1.19l-1.19,-1.19z" fill="#1a3ce0"/>
<path d="M310.8,68.6l1.26,1.26l-1.26,1.26l-1.26,-1.26z" fill="#1a3ce0"/>
<path d="M309.5,57.3l1.18,1.18l-1.18,1.18l-1.18,-1.18z" fill="#1a3ce0"/>
<path d="M311.4,99.3l1.28,1.28l-1.28,1.28l-1.28,-1.28z" fill="#0c22a8"/>
<path d="M312.1,43.5l1.32,1.32l-1.32,1.32l-1.32,-1.32z" fill="#0c22a8"/>
<path d="M296.6,31.4l0.76,0.76l-0.76,0.76l-0.76,-0.76z" fill="#706060"/>
<path d="M310.5,64.6l1.31,1.31l-1.31,1.31l-1.31,-1.31z" fill="#1a3ce0"/>
<path d="M299.2,35.7l0.76,0.76l-0.76,0.76l-0.76,-0.76z" fill="#3aa0d8"/>
<path d="M310.1,15.8l1.32,1.32l-1.32,1.32l-1.32,-1.32z" fill="#1a3ce0"/>
<path d="M313.5,28.3l1.32,1.32l-1.32,1.32l-1.32,-1.32z" fill="#1a3ce0"/>
<path d="M314.0,34.9l1.31,1.31l-1.31,1.31l-1.31,-1.31z" fill="#5aa0f0"/>
<path d="M311.5,59.2l1.24,1.24l-1.24,1.24l-1.24,-1.24z" fill="#1a3ce0"/>
<path d="M314.1,65.1l1.20,1.20l-1.20,1.20l-1.20,-1.20z" fill="#1a3ce0"/>
<path d="M307.7,93.1l1.15,1.15l-1.15,1.15l-1.15,-1.15z" fill="#0c22a8"/>
<path d="M297.1,22.8l0.61,0.61l-0.61,0.61l-0.61,-0.61z" fill="#a08078"/>
<path d="M313.9,20.0l1.14,1.14l-1.14,1.14l-1.14,-1.14z" fill="#1a3ce0"/>
<path d="M309.6,107.3l1.14,1.14l-1.14,1.14l-1.14,-1.14z" fill="#1a3ce0"/>
<path d="M315.1,38.7l1.23,1.23l-1.23,1.23l-1.23,-1.23z" fill="#1a3ce0"/>
<path d="M311.8,20.7l1.17,1.17l-1.17,1.17l-1.17,-1.17z" fill="#6f86e8"/>
<path d="M308.9,41.6l1.15,1.15l-1.15,1.15l-1.15,-1.15z" fill="#5a9cf0"/>
<path d="M311.0,92.0l1.18,1.18l-1.18,1.18l-1.18,-1.18z" fill="#6f86e8"/>
<path d="M312.6,26.8l1.23,1.23l-1.23,1.23l-1.23,-1.23z" fill="#6f86e8"/>
<path d="M314.6,73.3l1.12,1.12l-1.12,1.12l-1.12,-1.12z" fill="#38c4ea"/>
<path d="M310.8,78.5l1.07,1.07l-1.07,1.07l-1.07,-1.07z" fill="#1a3ce0"/>
<path d="M314.8,27.1l1.16,1.16l-1.16,1.16l-1.16,-1.16z" fill="#0c22a8"/>
<path d="M314.3,70.2l1.33,1.33l-1.33,1.33l-1.33,-1.33z" fill="#1a3ce0"/>
<path d="M315.4,35.2l1.36,1.36l-1.36,1.36l-1.36,-1.36z" fill="#0c22a8"/>
<path d="M304.2,102.1l1.24,1.24l-1.24,1.24l-1.24,-1.24z" fill="#a08078"/>
<path d="M309.2,62.8l0.94,0.94l-0.94,0.94l-0.94,-0.94z" fill="#8a8a8a"/>
<path d="M312.1,75.8l1.17,1.17l-1.17,1.17l-1.17,-1.17z" fill="#1a3ce0"/>
<path d="M313.8,21.9l1.38,1.38l-1.38,1.38l-1.38,-1.38z" fill="#1a3ce0"/>
<path d="M304.7,15.1l1.13,1.13l-1.13,1.13l-1.13,-1.13z" fill="#38c4ea"/>
<path d="M314.0,84.5l1.08,1.08l-1.08,1.08l-1.08,-1.08z" fill="#1a3ce0"/>
<path d="M305.9,15.7l1.06,1.06l-1.06,1.06l-1.06,-1.06z" fill="#0c22a8"/>
<path d="M298.5,44.4l0.69,0.69l-0.69,0.69l-0.69,-0.69z" fill="#a08078"/>
<path d="M310.8,48.0l1.26,1.26l-1.26,1.26l-1.26,-1.26z" fill="#a08078"/>
<path d="M311.3,36.9l1.10,1.10l-1.10,1.10l-1.10,-1.10z" fill="#a08078"/>
<path d="M312.7,52.9l1.24,1.24l-1.24,1.24l-1.24,-1.24z" fill="#0c22a8"/>
<path d="M312.3,60.4l1.28,1.28l-1.28,1.28l-1.28,-1.28z" fill="#1a3ce0"/>
<path d="M311.7,88.1l1.06,1.06l-1.06,1.06l-1.06,-1.06z" fill="#0c22a8"/>
<path d="M312.0,30.7l1.27,1.27l-1.27,1.27l-1.27,-1.27z" fill="#1a3ce0"/>
<path d="M310.5,23.2l1.30,1.30l-1.30,1.30l-1.30,-1.30z" fill="#0c22a8"/>
<path d="M313.2,86.5l1.31,1.31l-1.31,1.31l-1.31,-1.31z" fill="#6f86e8"/>
<path d="M314.1,17.8l1.12,1.12l-1.12,1.12l-1.12,-1.12z" fill="#0c22a8"/>
<path d="M309.5,107.8l1.08,1.08l-1.08,1.08l-1.08,-1.08z" fill="#0c22a8"/>
<path d="M310.6,73.8l1.07,1.07l-1.07,1.07l-1.07,-1.07z" fill="#0c22a8"/>
<path d="M312.3,13.1l1.36,1.36l-1.36,1.36l-1.36,-1.36z" fill="#0c22a8"/>
<path d="M308.8,86.6l0.92,0.92l-0.92,0.92l-0.92,-0.92z" fill="#0c22a8"/>
<path d="M314.7,36.2l1.18,1.18l-1.18,1.18l-1.18,-1.18z" fill="#1a3ce0"/>
<path d="M306.9,43.4l0.99,0.99l-0.99,0.99l-0.99,-0.99z" fill="#38c4ea"/>
<path d="M318.6,56.4l1.36,1.36l-1.36,1.36l-1.36,-1.36z" fill="#0c22a8"/>
<path d="M314.1,37.7l1.31,1.31l-1.31,1.31l-1.31,-1.31z" fill="#1a3ce0"/>
<path d="M308.6,32.4l0.89,0.89l-0.89,0.89l-0.89,-0.89z" fill="#0c22a8"/>
<path d="M317.8,46.9l1.19,1.19l-1.19,1.19l-1.19,-1.19z" fill="#1a3ce0"/>
<path d="M309.7,104.8l1.27,1.27l-1.27,1.27l-1.27,-1.27z" fill="#1a3ce0"/>
<path d="M311.4,62.0l1.36,1.36l-1.36,1.36l-1.36,-1.36z" fill="#5aa0f0"/>
<path d="M312.6,104.4l1.17,1.17l-1.17,1.17l-1.17,-1.17z" fill="#1a3ce0"/>
<path d="M316.0,71.7l1.29,1.29l-1.29,1.29l-1.29,-1.29z" fill="#1a3ce0"/>
<path d="M314.7,38.0l1.16,1.16l-1.16,1.16l-1.16,-1.16z" fill="#0c22a8"/>
<path d="M312.7,92.6l1.29,1.29l-1.29,1.29l-1.29,-1.29z" fill="#1a3ce0"/>
<path d="M313.2,60.0l1.28,1.28l-1.28,1.28l-1.28,-1.28z" fill="#1a3ce0"/>
<path d="M305.4,104.2l0.99,0.99l-0.99,0.99l-0.99,-0.99z" fill="#1a3ce0"/>
<path d="M306.6,105.3l1.04,1.04l-1.04,1.04l-1.04,-1.04z" fill="#0c22a8"/>
<path d="M309.9,18.2l1.11,1.11l-1.11,1.11l-1.11,-1.11z" fill="#0c22a8"/>
<path d="M309.5,19.5l1.12,1.12l-1.12,1.12l-1.12,-1.12z" fill="#1a3ce0"/>
<path d="M309.9,27.8l1.16,1.16l-1.16,1.16l-1.16,-1.16z" fill="#0c22a8"/>
<path d="M305.3,22.4l1.20,1.20l-1.20,1.20l-1.20,-1.20z" fill="#0c22a8"/>
<path d="M312.6,84.6l1.16,1.16l-1.16,1.16l-1.16,-1.16z" fill="#1a3ce0"/>
<path d="M313.5,16.6l1.07,1.07l-1.07,1.07l-1.07,-1.07z" fill="#0c22a8"/>
<path d="M313.6,58.1l1.12,1.12l-1.12,1.12l-1.12,-1.12z" fill="#1a3ce0"/>
<path d="M309.4,19.3l1.24,1.24l-1.24,1.24l-1.24,-1.24z" fill="#6f86e8"/>
<path d="M310.9,99.1l1.05,1.05l-1.05,1.05l-1.05,-1.05z" fill="#6f86e8"/>
<path d="M313.5,56.0l1.30,1.30l-1.30,1.30l-1.30,-1.30z" fill="#0c22a8"/>
<path d="M309.4,97.2l1.06,1.06l-1.06,1.06l-1.06,-1.06z" fill="#1a3ce0"/>
<path d="M313.0,21.7l1.16,1.16l-1.16,1.16l-1.16,-1.16z" fill="#1a3ce0"/>
<path d="M310.2,97.7l1.16,1.16l-1.16,1.16l-1.16,-1.16z" fill="#1a3ce0"/>
<path d="M314.8,66.9l1.31,1.31l-1.31,1.31l-1.31,-1.31z" fill="#1a3ce0"/>
<path d="M316.4,35.8l1.17,1.17l-1.17,1.17l-1.17,-1.17z" fill="#1a3ce0"/>
<path d="M312.7,102.1l1.28,1.28l-1.28,1.28l-1.28,-1.28z" fill="#1a3ce0"/>
<path d="M313.1,51.0l1.12,1.12l-1.12,1.12l-1.12,-1.12z" fill="#0c22a8"/>
<path d="M305.4,20.5l1.03,1.03l-1.03,1.03l-1.03,-1.03z" fill="#c04050"/>
<path d="M316.5,74.5l1.30,1.30l-1.30,1.30l-1.30,-1.30z" fill="#1a3ce0"/>
<path d="M305.6,45.8l0.82,0.82l-0.82,0.82l-0.82,-0.82z" fill="#7a7a7a"/>
<path d="M312.2,53.8l1.19,1.19l-1.19,1.19l-1.19,-1.19z" fill="#6f86e8"/>
<path d="M300.8,83.3l0.73,0.73l-0.73,0.73l-0.73,-0.73z" fill="#b07060"/>
<path d="M309.0,92.3l1.15,1.15l-1.15,1.15l-1.15,-1.15z" fill="#6f86e8"/>
<path d="M312.7,24.7l1.36,1.36l-1.36,1.36l-1.36,-1.36z" fill="#1a3ce0"/>
<path d="M306.7,26.0l1.13,1.13l-1.13,1.13l-1.13,-1.13z" fill="#8a8a8a"/>
<path d="M308.7,30.2l0.94,0.94l-0.94,0.94l-0.94,-0.94z" fill="#0c22a8"/>
<path d="M315.2,27.1l1.23,1.23l-1.23,1.23l-1.23,-1.23z" fill="#0c22a8"/>
<path d="M314.4,42.8l1.24,1.24l-1.24,1.24l-1.24,-1.24z" fill="#1a3ce0"/>
<path d="M311.0,22.5l1.15,1.15l-1.15,1.15l-1.15,-1.15z" fill="#1a3ce0"/>
<path d="M305.3,104.5l0.95,0.95l-0.95,0.95l-0.95,-0.95z" fill="#0c22a8"/>
<path d="M309.8,21.2l1.05,1.05l-1.05,1.05l-1.05,-1.05z" fill="#1a3ce0"/>
<path d="M309.1,31.0l0.91,0.91l-0.91,0.91l-0.91,-0.91z" fill="#a08078"/>
<path d="M318.4,53.6l1.19,1.19l-1.19,1.19l-1.19,-1.19z" fill="#1a3ce0"/>
<path d="M308.9,21.9l1.36,1.36l-1.36,1.36l-1.36,-1.36z" fill="#1a3ce0"/>
<path d="M312.4,68.5l1.25,1.25l-1.25,1.25l-1.25,-1.25z" fill="#38c4ea"/>
<path d="M317.0,45.4l1.10,1.10l-1.10,1.10l-1.10,-1.10z" fill="#1a3ce0"/>
<path d="M307.3,31.5l1.00,1.00l-1.00,1.00l-1.00,-1.00z" fill="#5a9cf0"/>
<path d="M312.4,45.8l1.27,1.27l-1.27,1.27l-1.27,-1.27z" fill="#5aa0f0"/>
<path d="M315.6,97.1l1.18,1.18l-1.18,1.18l-1.18,-1.18z" fill="#1a3ce0"/>
<path d="M310.4,18.6l1.22,1.22l-1.22,1.22l-1.22,-1.22z" fill="#1a3ce0"/>
<path d="M315.1,61.0l1.17,1.17l-1.17,1.17l-1.17,-1.17z" fill="#a08078"/>
<path d="M310.1,55.8l1.10,1.10l-1.10,1.10l-1.10,-1.10z" fill="#5a9cf0"/>
<path d="M309.4,43.4l1.13,1.13l-1.13,1.13l-1.13,-1.13z" fill="#0c22a8"/>
<path d="M313.1,87.5l1.14,1.14l-1.14,1.14l-1.14,-1.14z" fill="#0c22a8"/>
<path d="M310.8,26.7l1.33,1.33l-1.33,1.33l-1.33,-1.33z" fill="#6f86e8"/>
<path d="M312.6,19.2l1.11,1.11l-1.11,1.11l-1.11,-1.11z" fill="#1a3ce0"/>
<path d="M309.3,33.6l1.10,1.10l-1.10,1.10l-1.10,-1.10z" fill="#38c4ea"/>
<path d="M309.1,106.3l1.08,1.08l-1.08,1.08l-1.08,-1.08z" fill="#1a3ce0"/>
<path d="M310.2,24.5l1.13,1.13l-1.13,1.13l-1.13,-1.13z" fill="#6f86e8"/>
<path d="M305.8,12.4l1.17,1.17l-1.17,1.17l-1.17,-1.17z" fill="#5a9cf0"/>
<path d="M309.2,48.5l1.17,1.17l-1.17,1.17l-1.17,-1.17z" fill="#a08078"/>
<path d="M311.5,105.3l1.25,1.25l-1.25,1.25l-1.25,-1.25z" fill="#5aa0f0"/>
<path d="M312.5,18.8l1.21,1.21l-1.21,1.21l-1.21,-1.21z" fill="#1a3ce0"/>
<path d="M315.8,36.1l1.24,1.24l-1.24,1.24l-1.24,-1.24z" fill="#1a3ce0"/>
<path d="M310.1,82.8l1.07,1.07l-1.07,1.07l-1.07,-1.07z" fill="#0c22a8"/>
<path d="M317.6,72.5l1.19,1.19l-1.19,1.19l-1.19,-1.19z" fill="#0c22a8"/>
<path d="M304.4,93.3l0.90,0.90l-0.90,0.90l-0.90,-0.90z" fill="#a08078"/>
<path d="M307.3,35.7l0.98,0.98l-0.98,0.98l-0.98,-0.98z" fill="#0c22a8"/>
<path d="M310.6,83.6l1.09,1.09l-1.09,1.09l-1.09,-1.09z" fill="#1a3ce0"/>
<path d="M311.3,90.1l1.21,1.21l-1.21,1.21l-1.21,-1.21z" fill="#5aa0f0"/>
<path d="M312.1,88.2l1.39,1.39l-1.39,1.39l-1.39,-1.39z" fill="#1a3ce0"/>
<path d="M309.4,64.5l1.11,1.11l-1.11,1.11l-1.11,-1.11z" fill="#0c22a8"/>
<path d="M317.7,52.9l1.14,1.14l-1.14,1.14l-1.14,-1.14z" fill="#6f86e8"/>
<path d="M313.0,29.4l1.31,1.31l-1.31,1.31l-1.31,-1.31z" fill="#1a3ce0"/>
<path d="M315.3,23.5l1.14,1.14l-1.14,1.14l-1.14,-1.14z" fill="#6f86e8"/>
<path d="M308.4,47.6l0.85,0.85l-0.85,0.85l-0.85,-0.85z" fill="#1a3ce0"/>
<path d="M317.2,50.0l1.31,1.31l-1.31,1.31l-1.31,-1.31z" fill="#6f86e8"/>
<path d="M313.4,98.5l1.16,1.16l-1.16,1.16l-1.16,-1.16z" fill="#1a3ce0"/>
<path d="M303.2,102.2l0.72,0.72l-0.72,0.72l-0.72,-0.72z" fill="#2050c0"/>
<path d="M312.5,24.4l1.25,1.25l-1.25,1.25l-1.25,-1.25z" fill="#0c22a8"/>
<path d="M313.4,20.8l1.13,1.13l-1.13,1.13l-1.13,-1.13z" fill="#6f86e8"/>
<path d="M305.5,101.5l0.97,0.97l-0.97,0.97l-0.97,-0.97z" fill="#0c22a8"/>
<path d="M307.0,101.5l0.95,0.95l-0.95,0.95l-0.95,-0.95z" fill="#0c22a8"/>
<path d="M309.5,24.0l1.26,1.26l-1.26,1.26l-1.26,-1.26z" fill="#1a3ce0"/>
<path d="M314.6,103.2l1.26,1.26l-1.26,1.26l-1.26,-1.26z" fill="#1a3ce0"/>
<path d="M312.7,93.8l1.27,1.27l-1.27,1.27l-1.27,-1.27z" fill="#1a3ce0"/>
<path d="M306.5,97.1l1.16,1.16l-1.16,1.16l-1.16,-1.16z" fill="#0c22a8"/>
<path d="M304.9,28.0l0.81,0.81l-0.81,0.81l-0.81,-0.81z" fill="#b07060"/>
<path d="M313.4,105.1l1.17,1.17l-1.17,1.17l-1.17,-1.17z" fill="#1a3ce0"/>
<path d="M310.5,47.4l1.18,1.18l-1.18,1.18l-1.18,-1.18z" fill="#1a3ce0"/>
<path d="M317.1,60.5l1.38,1.38l-1.38,1.38l-1.38,-1.38z" fill="#1a3ce0"/>
<path d="M313.9,92.3l1.10,1.10l-1.10,1.10l-1.10,-1.10z" fill="#1a3ce0"/>
<path d="M318.6,61.2l1.40,1.40l-1.40,1.40l-1.40,-1.40z" fill="#0c22a8"/>
<path d="M310.5,91.7l1.38,1.38l-1.38,1.38l-1.38,-1.38z" fill="#1a3ce0"/>
<path d="M313.1,43.4l1.12,1.12l-1.12,1.12l-1.12,-1.12z" fill="#a08078"/>
<path d="M309.1,13.1l1.30,1.30l-1.30,1.30l-1.30,-1.30z" fill="#0c22a8"/>
<path d="M312.9,80.4l1.11,1.11l-1.11,1.11l-1.11,-1.11z" fill="#1a3ce0"/>
<path d="M308.7,56.3l1.12,1.12l-1.12,1.12l-1.12,-1.12z" fill="#c04050"/>
<path d="M308.3,20.5l1.21,1.21l-1.21,1.21l-1.21,-1.21z" fill="#8a8a8a"/>
<path d="M310.4,33.5l1.34,1.34l-1.34,1.34l-1.34,-1.34z" fill="#6f86e8"/>
<path d="M311.1,13.8l1.08,1.08l-1.08,1.08l-1.08,-1.08z" fill="#6f86e8"/>
<path d="M315.0,35.4l1.27,1.27l-1.27,1.27l-1.27,-1.27z" fill="#1a3ce0"/>
<path d="M313.6,77.5l1.19,1.19l-1.19,1.19l-1.19,-1.19z" fill="#1a3ce0"/>
<path d="M314.7,47.1l1.33,1.33l-1.33,1.33l-1.33,-1.33z" fill="#1a3ce0"/>
<path d="M314.8,103.2l1.30,1.30l-1.30,1.30l-1.30,-1.30z" fill="#0c22a8"/>
<path d="M296.8,68.9l0.89,0.89l-0.89,0.89l-0.89,-0.89z" fill="#e09040"/>
<path d="M313.4,17.7l1.32,1.32l-1.32,1.32l-1.32,-1.32z" fill="#5aa0f0"/>
<path d="M307.6,34.2l1.01,1.01l-1.01,1.01l-1.01,-1.01z" fill="#1a3ce0"/>
<path d="M307.4,17.8l1.21,1.21l-1.21,1.21l-1.21,-1.21z" fill="#38c4ea"/>
<path d="M308.3,73.6l1.14,1.14l-1.14,1.14l-1.14,-1.14z" fill="#5a9cf0"/>
<path d="M314.3,70.0l1.05,1.05l-1.05,1.05l-1.05,-1.05z" fill="#1a3ce0"/>
<path d="M311.2,80.5l1.29,1.29l-1.29,1.29l-1.29,-1.29z" fill="#1a3ce0"/>
<path d="M305.3,99.1l1.11,1.11l-1.11,1.11l-1.11,-1.11z" fill="#1a3ce0"/>
<path d="M312.2,34.2l1.18,1.18l-1.18,1.18l-1.18,-1.18z" fill="#0c22a8"/>
<path d="M315.9,26.0l1.26,1.26l-1.26,1.26l-1.26,-1.26z" fill="#1a3ce0"/>
<path d="M315.3,91.6l1.20,1.20l-1.20,1.20l-1.20,-1.20z" fill="#1a3ce0"/>
<path d="M307.1,27.3l1.18,1.18l-1.18,1.18l-1.18,-1.18z" fill="#1a3ce0"/>
<path d="M308.4,95.0l1.23,1.23l-1.23,1.23l-1.23,-1.23z" fill="#0c22a8"/>
<path d="M311.5,48.6l1.30,1.30l-1.30,1.30l-1.30,-1.30z" fill="#0c22a8"/>
<path d="M311.7,87.2l1.16,1.16l-1.16,1.16l-1.16,-1.16z" fill="#1a3ce0"/>
<path d="M306.2,76.8l0.90,0.90l-0.90,0.90l-0.90,-0.90z" fill="#1a3ce0"/>
<path d="M300.3,78.2l0.77,0.77l-0.77,0.77l-0.77,-0.77z" fill="#2050c0"/>
<path d="M301.9,80.3l0.70,0.70l-0.70,0.70l-0.70,-0.70z" fill="#b04050"/>
<path d="M313.5,92.1l1.07,1.07l-1.07,1.07l-1.07,-1.07z" fill="#0c22a8"/>
<path d="M303.7,98.6l0.69,0.69l-0.69,0.69l-0.69,-0.69z" fill="#2050c0"/>
<path d="M313.0,56.3l1.39,1.39l-1.39,1.39l-1.39,-1.39z" fill="#0c22a8"/>
<path d="M310.4,103.3l1.08,1.08l-1.08,1.08l-1.08,-1.08z" fill="#5aa0f0"/>
<path d="M312.2,37.7l1.33,1.33l-1.33,1.33l-1.33,-1.33z" fill="#1a3ce0"/>
<path d="M305.2,95.4l0.85,0.85l-0.85,0.85l-0.85,-0.85z" fill="#1a3ce0"/>
<path d="M309.3,47.7l1.21,1.21l-1.21,1.21l-1.21,-1.21z" fill="#38c4ea"/>
<path d="M308.7,15.2l1.32,1.32l-1.32,1.32l-1.32,-1.32z" fill="#1a3ce0"/>
<path d="M302.4,36.8l0.70,0.70l-0.70,0.70l-0.70,-0.70z" fill="#7a7a7a"/>
<path d="M315.3,103.2l1.40,1.40l-1.40,1.40l-1.40,-1.40z" fill="#6f86e8"/>
<path d="M314.0,46.9l1.09,1.09l-1.09,1.09l-1.09,-1.09z" fill="#6f86e8"/>
<path d="M315.4,25.6l1.10,1.10l-1.10,1.10l-1.10,-1.10z" fill="#5aa0f0"/>
<path d="M304.5,14.4l1.04,1.04l-1.04,1.04l-1.04,-1.04z" fill="#a08078"/>
<path d="M313.2,99.5l1.26,1.26l-1.26,1.26l-1.26,-1.26z" fill="#6f86e8"/>
<path d="M303.7,73.5l0.62,0.62l-0.62,0.62l-0.62,-0.62z" fill="#8a3040"/>
<path d="M307.9,31.7l1.22,1.22l-1.22,1.22l-1.22,-1.22z" fill="#1a3ce0"/>
<path d="M313.7,20.3l1.28,1.28l-1.28,1.28l-1.28,-1.28z" fill="#6f86e8"/>
<path d="M305.3,63.8l0.80,0.80l-0.80,0.80l-0.80,-0.80z" fill="#8a3040"/>
<path d="M312.3,31.4l1.27,1.27l-1.27,1.27l-1.27,-1.27z" fill="#0c22a8"/>
<path d="M315.6,74.6l1.18,1.18l-1.18,1.18l-1.18,-1.18z" fill="#0c22a8"/>
<path d="M309.2,94.0l1.11,1.11l-1.11,1.11l-1.11,-1.11z" fill="#6f86e8"/>
<path d="M314.1,77.9l1.17,1.17l-1.17,1.17l-1.17,-1.17z" fill="#0c22a8"/>
<path d="M314.5,48.2l1.28,1.28l-1.28,1.28l-1.28,-1.28z" fill="#0c22a8"/>
<path d="M314.6,65.3l1.38,1.38l-1.38,1.38l-1.38,-1.38z" fill="#0c22a8"/>
<path d="M312.6,79.2l1.12,1.12l-1.12,1.12l-1.12,-1.12z" fill="#0c22a8"/>
<path d="M311.8,44.2l1.11,1.11l-1.11,1.11l-1.11,-1.11z" fill="#5aa0f0"/>
<path d="M311.0,20.3l1.26,1.26l-1.26,1.26l-1.26,-1.26z" fill="#1a3ce0"/>
<path d="M312.3,104.8l1.15,1.15l-1.15,1.15l-1.15,-1.15z" fill="#0c22a8"/>
<path d="M316.2,37.7l1.31,1.31l-1.31,1.31l-1.31,-1.31z" fill="#0c22a8"/>
<path d="M310.7,55.3l1.36,1.36l-1.36,1.36l-1.36,-1.36z" fill="#1a3ce0"/>
<path d="M297.3,14.6l0.66,0.66l-0.66,0.66l-0.66,-0.66z" fill="#b07060"/>
<path d="M313.5,101.3l1.13,1.13l-1.13,1.13l-1.13,-1.13z" fill="#0c22a8"/>
<path d="M313.5,98.5l1.26,1.26l-1.26,1.26l-1.26,-1.26z" fill="#1a3ce0"/>
<path d="M317.2,42.5l1.11,1.11l-1.11,1.11l-1.11,-1.11z" fill="#1a3ce0"/>
<path d="M308.6,52.8l1.16,1.16l-1.16,1.16l-1.16,-1.16z" fill="#c04050"/>
<path d="M315.0,100.2l1.12,1.12l-1.12,1.12l-1.12,-1.12z" fill="#1a3ce0"/>
<path d="M312.8,97.3l1.37,1.37l-1.37,1.37l-1.37,-1.37z" fill="#1a3ce0"/>
<path d="M311.8,36.2l1.38,1.38l-1.38,1.38l-1.38,-1.38z" fill="#1a3ce0"/>
<path d="M308.3,102.6l1.11,1.11l-1.11,1.11l-1.11,-1.11z" fill="#1a3ce0"/>
<path d="M307.3,47.0l1.10,1.10l-1.10,1.10l-1.10,-1.10z" fill="#5a9cf0"/>
<path d="M316.6,37.5l1.24,1.24l-1.24,1.24l-1.24,-1.24z" fill="#38c4ea"/>
<path d="M312.6,100.1l1.06,1.06l-1.06,1.06l-1.06,-1.06z" fill="#0c22a8"/>
<path d="M315.9,80.4l1.26,1.26l-1.26,1.26l-1.26,-1.26z" fill="#0c22a8"/>
<path d="M317.5,68.1l1.37,1.37l-1.37,1.37l-1.37,-1.37z" fill="#1a3ce0"/>
<path d="M313.9,13.0l1.27,1.27l-1.27,1.27l-1.27,-1.27z" fill="#0c22a8"/>
<path d="M317.2,65.8l1.18,1.18l-1.18,1.18l-1.18,-1.18z" fill="#1a3ce0"/>
<path d="M310.2,103.6l1.24,1.24l-1.24,1.24l-1.24,-1.24z" fill="#1a3ce0"/>
<path d="M309.1,13.0l1.32,1.32l-1.32,1.32l-1.32,-1.32z" fill="#0c22a8"/>
<path d="M308.2,96.5l1.27,1.27l-1.27,1.27l-1.27,-1.27z" fill="#1a3ce0"/>
<path d="M310.2,100.3l1.27,1.27l-1.27,1.27l-1.27,-1.27z" fill="#1a3ce0"/>
<path d="M305.9,60.4l1.20,1.20l-1.20,1.20l-1.20,-1.20z" fill="#a08078"/>
<path d="M308.8,32.3l1.03,1.03l-1.03,1.03l-1.03,-1.03z" fill="#a08078"/>
<path d="M308.8,82.5l1.02,1.02l-1.02,1.02l-1.02,-1.02z" fill="#1a3ce0"/>
<path d="M311.8,20.9l1.16,1.16l-1.16,1.16l-1.16,-1.16z" fill="#1a3ce0"/>
<path d="M297.3,49.4l0.73,0.73l-0.73,0.73l-0.73,-0.73z" fill="#a08078"/>
<path d="M314.0,45.3l1.18,1.18l-1.18,1.18l-1.18,-1.18z" fill="#1a3ce0"/>
<path d="M311.6,43.5l1.11,1.11l-1.11,1.11l-1.11,-1.11z" fill="#1a3ce0"/>
<path d="M311.8,68.4l1.33,1.33l-1.33,1.33l-1.33,-1.33z" fill="#1a3ce0"/>
<path d="M315.1,26.9l1.34,1.34l-1.34,1.34l-1.34,-1.34z" fill="#1a3ce0"/>
<path d="M312.8,77.9l1.33,1.33l-1.33,1.33l-1.33,-1.33z" fill="#5aa0f0"/>
<path d="M315.0,66.0l1.31,1.31l-1.31,1.31l-1.31,-1.31z" fill="#38c4ea"/>
<path d="M311.7,103.0l1.17,1.17l-1.17,1.17l-1.17,-1.17z" fill="#1a3ce0"/>
<path d="M307.3,31.3l1.21,1.21l-1.21,1.21l-1.21,-1.21z" fill="#a08078"/>
<path d="M313.1,75.3l1.31,1.31l-1.31,1.31l-1.31,-1.31z" fill="#1a3ce0"/>
<path d="M313.0,36.6l1.09,1.09l-1.09,1.09l-1.09,-1.09z" fill="#0c22a8"/>
<path d="M309.7,96.4l1.14,1.14l-1.14,1.14l-1.14,-1.14z" fill="#6f86e8"/>
<path d="M312.7,80.0l1.07,1.07l-1.07,1.07l-1.07,-1.07z" fill="#1a3ce0"/>
<path d="M314.5,34.7l1.29,1.29l-1.29,1.29l-1.29,-1.29z" fill="#0c22a8"/>
<path d="M313.1,19.1l1.10,1.10l-1.10,1.10l-1.10,-1.10z" fill="#0c22a8"/>
<path d="M310.4,47.0l1.29,1.29l-1.29,1.29l-1.29,-1.29z" fill="#38c4ea"/>
<path d="M310.9,54.6l1.14,1.14l-1.14,1.14l-1.14,-1.14z" fill="#0c22a8"/>
<path d="M315.6,102.3l1.18,1.18l-1.18,1.18l-1.18,-1.18z" fill="#38c4ea"/>
<path d="M312.7,28.5l1.21,1.21l-1.21,1.21l-1.21,-1.21z" fill="#0c22a8"/>
<path d="M309.4,69.7l1.22,1.22l-1.22,1.22l-1.22,-1.22z" fill="#1a3ce0"/>
<path d="M313.9,20.8l1.06,1.06l-1.06,1.06l-1.06,-1.06z" fill="#5aa0f0"/>
<path d="M309.6,106.6l1.09,1.09l-1.09,1.09l-1.09,-1.09z" fill="#1a3ce0"/>
<path d="M312.1,75.0l1.21,1.21l-1.21,1.21l-1.21,-1.21z" fill="#1a3ce0"/>
<path d="M314.8,90.8l1.35,1.35l-1.35,1.35l-1.35,-1.35z" fill="#1a3ce0"/>
<path d="M303.9,89.5l0.83,0.83l-0.83,0.83l-0.83,-0.83z" fill="#b04050"/>
<path d="M313.5,24.6l1.27,1.27l-1.27,1.27l-1.27,-1.27z" fill="#6f86e8"/>
<path d="M312.0,17.5l1.23,1.23l-1.23,1.23l-1.23,-1.23z" fill="#1a3ce0"/>
<path d="M314.6,68.8l1.38,1.38l-1.38,1.38l-1.38,-1.38z" fill="#1a3ce0"/>
<path d="M317.6,51.6l1.27,1.27l-1.27,1.27l-1.27,-1.27z" fill="#5aa0f0"/>
<path d="M315.4,66.8l1.39,1.39l-1.39,1.39l-1.39,-1.39z" fill="#1a3ce0"/>
<path d="M301.2,85.4l0.90,0.90l-0.90,0.90l-0.90,-0.90z" fill="#2050c0"/>
<path d="M316.8,47.3l1.19,1.19l-1.19,1.19l-1.19,-1.19z" fill="#1a3ce0"/>
<path d="M313.8,40.2l1.10,1.10l-1.10,1.10l-1.10,-1.10z" fill="#1a3ce0"/>
<path d="M313.2,47.9l1.23,1.23l-1.23,1.23l-1.23,-1.23z" fill="#1a3ce0"/>
<path d="M315.6,84.7l1.38,1.38l-1.38,1.38l-1.38,-1.38z" fill="#0c22a8"/>
<path d="M311.7,39.0l1.20,1.20l-1.20,1.20l-1.20,-1.20z" fill="#1a3ce0"/>
<path d="M310.0,103.3l1.20,1.20l-1.20,1.20l-1.20,-1.20z" fill="#1a3ce0"/>
<path d="M307.0,85.1l1.12,1.12l-1.12,1.12l-1.12,-1.12z" fill="#1a3ce0"/>
<path d="M316.2,43.7l1.13,1.13l-1.13,1.13l-1.13,-1.13z" fill="#1a3ce0"/>
<path d="M309.2,99.9l1.23,1.23l-1.23,1.23l-1.23,-1.23z" fill="#0c22a8"/>
<path d="M309.9,104.8l1.27,1.27l-1.27,1.27l-1.27,-1.27z" fill="#6f86e8"/>
<path d="M306.7,47.6l1.02,1.02l-1.02,1.02l-1.02,-1.02z" fill="#1a3ce0"/>
<path d="M312.9,101.6l1.40,1.40l-1.40,1.40l-1.40,-1.40z" fill="#6f86e8"/>
<path d="M318.0,60.1l1.06,1.06l-1.06,1.06l-1.06,-1.06z" fill="#6f86e8"/>
<path d="M311.5,89.2l1.38,1.38l-1.38,1.38l-1.38,-1.38z" fill="#0c22a8"/>
<path d="M311.2,28.6l1.26,1.26l-1.26,1.26l-1.26,-1.26z" fill="#6f86e8"/>
<path d="M315.6,101.2l1.30,1.30l-1.30,1.30l-1.30,-1.30z" fill="#0c22a8"/>
<path d="M308.6,85.6l0.92,0.92l-0.92,0.92l-0.92,-0.92z" fill="#5a9cf0"/>
<path d="M311.0,51.9l1.14,1.14l-1.14,1.14l-1.14,-1.14z" fill="#1a3ce0"/>
<path d="M308.2,56.1l1.15,1.15l-1.15,1.15l-1.15,-1.15z" fill="#1a3ce0"/>
<path d="M306.7,97.2l1.15,1.15l-1.15,1.15l-1.15,-1.15z" fill="#5a9cf0"/>
<path d="M312.2,104.7l1.06,1.06l-1.06,1.06l-1.06,-1.06z" fill="#1a3ce0"/>
<path d="M313.4,88.8l1.24,1.24l-1.24,1.24l-1.24,-1.24z" fill="#0c22a8"/>
<path d="M313.1,15.1l1.35,1.35l-1.35,1.35l-1.35,-1.35z" fill="#1a3ce0"/>
<path d="M312.7,84.1l1.29,1.29l-1.29,1.29l-1.29,-1.29z" fill="#1a3ce0"/>
<path d="M305.2,56.0l0.67,0.67l-0.67,0.67l-0.67,-0.67z" fill="#7a7a7a"/>
<path d="M314.6,38.7l1.09,1.09l-1.09,1.09l-1.09,-1.09z" fill="#1a3ce0"/>
<path d="M300.5,86.6l0.90,0.90l-0.90,0.90l-0.90,-0.90z" fill="#2050c0"/>
<path d="M311.5,22.3l1.38,1.38l-1.38,1.38l-1.38,-1.38z" fill="#1a3ce0"/>
<path d="M310.8,36.8l1.05,1.05l-1.05,1.05l-1.05,-1.05z" fill="#1a3ce0"/>
<path d="M317.4,69.8l1.13,1.13l-1.13,1.13l-1.13,-1.13z" fill="#1a3ce0"/>
<path d="M315.0,26.9l1.10,1.10l-1.10,1.10l-1.10,-1.10z" fill="#6f86e8"/>
<path d="M301.7,37.1l0.69,0.69l-0.69,0.69l-0.69,-0.69z" fill="#3aa0d8"/>
<path d="M308.8,36.7l1.13,1.13l-1.13,1.13l-1.13,-1.13z" fill="#8a8a8a"/>
<path d="M306.6,75.1l1.03,1.03l-1.03,1.03l-1.03,-1.03z" fill="#5a9cf0"/>
<path d="M310.9,86.9l1.23,1.23l-1.23,1.23l-1.23,-1.23z" fill="#1a3ce0"/>
<path d="M307.0,17.1l1.12,1.12l-1.12,1.12l-1.12,-1.12z" fill="#1a3ce0"/>
<path d="M308.6,71.8l0.89,0.89l-0.89,0.89l-0.89,-0.89z" fill="#38c4ea"/>
<path d="M316.0,65.6l1.09,1.09l-1.09,1.09l-1.09,-1.09z" fill="#6f86e8"/>
<path d="M315.9,70.8l1.18,1.18l-1.18,1.18l-1.18,-1.18z" fill="#1a3ce0"/>
<path d="M318.3,57.7l1.34,1.34l-1.34,1.34l-1.34,-1.34z" fill="#1a3ce0"/>
<path d="M317.5,47.0l1.24,1.24l-1.24,1.24l-1.24,-1.24z" fill="#0c22a8"/>
<path d="M314.8,97.3l1.32,1.32l-1.32,1.32l-1.32,-1.32z" fill="#1a3ce0"/>
<path d="M314.9,49.8l1.16,1.16l-1.16,1.16l-1.16,-1.16z" fill="#1a3ce0"/>
<path d="M306.7,22.1l1.19,1.19l-1.19,1.19l-1.19,-1.19z" fill="#1a3ce0"/>
<path d="M318.2,60.0l1.13,1.13l-1.13,1.13l-1.13,-1.13z" fill="#1a3ce0"/>
<path d="M313.4,19.9l1.17,1.17l-1.17,1.17l-1.17,-1.17z" fill="#6f86e8"/>
<path d="M307.7,50.3l0.85,0.85l-0.85,0.85l-0.85,-0.85z" fill="#5a9cf0"/>
<path d="M312.5,95.3l1.14,1.14l-1.14,1.14l-1.14,-1.14z" fill="#0c22a8"/>
<path d="M308.7,100.7l1.15,1.15l-1.15,1.15l-1.15,-1.15z" fill="#1a3ce0"/>
<path d="M312.5,84.4l1.27,1.27l-1.27,1.27l-1.27,-1.27z" fill="#1a3ce0"/>
<path d="M308.8,71.9l1.25,1.25l-1.25,1.25l-1.25,-1.25z" fill="#1a3ce0"/>
<path d="M314.0,23.6l1.29,1.29l-1.29,1.29l-1.29,-1.29z" fill="#0c22a8"/>
<path d="M316.8,77.9l1.19,1.19l-1.19,1.19l-1.19,-1.19z" fill="#6f86e8"/>
<path d="M313.4,17.7l1.25,1.25l-1.25,1.25l-1.25,-1.25z" fill="#0c22a8"/>
<path d="M314.2,34.9l1.34,1.34l-1.34,1.34l-1.34,-1.34z" fill="#1a3ce0"/>
<path d="M310.0,18.0l1.09,1.09l-1.09,1.09l-1.09,-1.09z" fill="#1a3ce0"/>
<path d="M308.2,13.5l1.38,1.38l-1.38,1.38l-1.38,-1.38z" fill="#0c22a8"/>
<path d="M306.3,43.8l0.96,0.96l-0.96,0.96l-0.96,-0.96z" fill="#1a3ce0"/>
<path d="M310.8,41.4l1.21,1.21l-1.21,1.21l-1.21,-1.21z" fill="#0c22a8"/>
<path d="M313.1,48.0l1.24,1.24l-1.24,1.24l-1.24,-1.24z" fill="#1a3ce0"/>
<path d="M308.2,57.8l0.92,0.92l-0.92,0.92l-0.92,-0.92z" fill="#1a3ce0"/>
<path d="M311.5,20.4l1.21,1.21l-1.21,1.21l-1.21,-1.21z" fill="#0c22a8"/>
<path d="M310.2,78.9l1.13,1.13l-1.13,1.13l-1.13,-1.13z" fill="#0c22a8"/>
<path d="M298.6,57.7l0.63,0.63l-0.63,0.63l-0.63,-0.63z" fill="#b07060"/>
<path d="M314.8,60.1l1.38,1.38l-1.38,1.38l-1.38,-1.38z" fill="#1a3ce0"/>
<path d="M316.3,80.8l1.36,1.36l-1.36,1.36l-1.36,-1.36z" fill="#6f86e8"/>
<path d="M315.2,32.7l1.23,1.23l-1.23,1.23l-1.23,-1.23z" fill="#1a3ce0"/>
<path d="M313.3,104.4l1.16,1.16l-1.16,1.16l-1.16,-1.16z" fill="#1a3ce0"/>
<path d="M306.7,14.6l1.23,1.23l-1.23,1.23l-1.23,-1.23z" fill="#d09050"/>
<path d="M313.9,26.9l1.19,1.19l-1.19,1.19l-1.19,-1.19z" fill="#a08078"/>
<path d="M308.4,108.0l1.27,1.27l-1.27,1.27l-1.27,-1.27z" fill="#1a3ce0"/>
<path d="M317.3,78.4l1.14,1.14l-1.14,1.14l-1.14,-1.14z" fill="#1a3ce0"/>
<path d="M305.7,20.2l0.96,0.96l-0.96,0.96l-0.96,-0.96z" fill="#5a9cf0"/>
<path d="M308.1,12.2l1.34,1.34l-1.34,1.34l-1.34,-1.34z" fill="#5aa0f0"/>
<path d="M310.2,80.4l1.33,1.33l-1.33,1.33l-1.33,-1.33z" fill="#6f86e8"/>
<path d="M315.8,72.8l1.26,1.26l-1.26,1.26l-1.26,-1.26z" fill="#1a3ce0"/>
<path d="M308.0,46.6l0.97,0.97l-0.97,0.97l-0.97,-0.97z" fill="#8a8a8a"/>
<path d="M308.8,66.9l1.19,1.19l-1.19,1.19l-1.19,-1.19z" fill="#1a3ce0"/>
<path d="M310.5,48.7l1.11,1.11l-1.11,1.11l-1.11,-1.11z" fill="#1a3ce0"/>
<path d="M315.1,76.7l1.10,1.10l-1.10,1.10l-1.10,-1.10z" fill="#5aa0f0"/>
<path d="M304.1,13.8l1.24,1.24l-1.24,1.24l-1.24,-1.24z" fill="#1a3ce0"/>
<path d="M319.1,61.8l1.23,1.23l-1.23,1.23l-1.23,-1.23z" fill="#1a3ce0"/>
<path d="M305.5,44.5l0.78,0.78l-0.78,0.78l-0.78,-0.78z" fill="#a08078"/>
<path d="M311.5,26.3l1.08,1.08l-1.08,1.08l-1.08,-1.08z" fill="#0c22a8"/>
<path d="M312.4,23.2l1.23,1.23l-1.23,1.23l-1.23,-1.23z" fill="#0c22a8"/>
<path d="M310.0,36.3l1.24,1.24l-1.24,1.24l-1.24,-1.24z" fill="#1a3ce0"/>
<path d="M309.5,40.3l1.02,1.02l-1.02,1.02l-1.02,-1.02z" fill="#c04050"/>
<path d="M318.7,54.3l1.38,1.38l-1.38,1.38l-1.38,-1.38z" fill="#0c22a8"/>
<path d="M314.6,23.5l1.39,1.39l-1.39,1.39l-1.39,-1.39z" fill="#1a3ce0"/>
<path d="M310.3,49.5l1.25,1.25l-1.25,1.25l-1.25,-1.25z" fill="#1a3ce0"/>
<path d="M310.8,38.9l1.36,1.36l-1.36,1.36l-1.36,-1.36z" fill="#1a3ce0"/>
<path d="M312.3,65.5l1.40,1.40l-1.40,1.40l-1.40,-1.40z" fill="#1a3ce0"/>
<path d="M307.0,102.2l0.85,0.85l-0.85,0.85l-0.85,-0.85z" fill="#38c4ea"/>
<path d="M312.2,105.8l1.17,1.17l-1.17,1.17l-1.17,-1.17z" fill="#6f86e8"/>
<path d="M311.2,104.1l1.30,1.30l-1.30,1.30l-1.30,-1.30z" fill="#1a3ce0"/>
<path d="M318.3,60.7l1.11,1.11l-1.11,1.11l-1.11,-1.11z" fill="#0c22a8"/>
<path d="M318.0,60.3l1.38,1.38l-1.38,1.38l-1.38,-1.38z" fill="#5aa0f0"/>
<path d="M316.0,30.6l1.09,1.09l-1.09,1.09l-1.09,-1.09z" fill="#0c22a8"/>
<path d="M317.9,47.0l1.31,1.31l-1.31,1.31l-1.31,-1.31z" fill="#1a3ce0"/>
<path d="M304.4,79.7l0.85,0.85l-0.85,0.85l-0.85,-0.85z" fill="#b04050"/>
<path d="M311.5,68.7l1.08,1.08l-1.08,1.08l-1.08,-1.08z" fill="#5aa0f0"/>
<path d="M310.0,83.3l1.29,1.29l-1.29,1.29l-1.29,-1.29z" fill="#1a3ce0"/>
<path d="M305.9,101.1l1.01,1.01l-1.01,1.01l-1.01,-1.01z" fill="#5a9cf0"/>
<path d="M313.6,31.1l1.26,1.26l-1.26,1.26l-1.26,-1.26z" fill="#38c4ea"/>
<path d="M307.7,58.0l1.20,1.20l-1.20,1.20l-1.20,-1.20z" fill="#0c22a8"/>
<path d="M314.9,72.8l1.19,1.19l-1.19,1.19l-1.19,-1.19z" fill="#0c22a8"/>
<path d="M306.5,24.9l0.93,0.93l-0.93,0.93l-0.93,-0.93z" fill="#5a9cf0"/>
<path d="M306.1,49.1l0.85,0.85l-0.85,0.85l-0.85,-0.85z" fill="#0c22a8"/>
<path d="M310.6,59.8l1.12,1.12l-1.12,1.12l-1.12,-1.12z" fill="#6f86e8"/>
<path d="M309.3,35.9l1.25,1.25l-1.25,1.25l-1.25,-1.25z" fill="#0c22a8"/>
<path d="M309.5,71.2l1.14,1.14l-1.14,1.14l-1.14,-1.14z" fill="#5a9cf0"/>
<path d="M318.3,70.4l1.26,1.26l-1.26,1.26l-1.26,-1.26z" fill="#6f86e8"/>
<path d="M311.9,101.2l1.12,1.12l-1.12,1.12l-1.12,-1.12z" fill="#1a3ce0"/>
<path d="M298.0,73.9l0.90,0.90l-0.90,0.90l-0.90,-0.90z" fill="#7a7a7a"/>
<path d="M315.6,64.2l1.27,1.27l-1.27,1.27l-1.27,-1.27z" fill="#1a3ce0"/>
<path d="M309.2,102.9l1.14,1.14l-1.14,1.14l-1.14,-1.14z" fill="#0c22a8"/>
<path d="M317.8,54.0l1.25,1.25l-1.25,1.25l-1.25,-1.25z" fill="#1a3ce0"/>
<path d="M308.4,74.9l1.07,1.07l-1.07,1.07l-1.07,-1.07z" fill="#5a9cf0"/>
<path d="M305.1,43.2l0.77,0.77l-0.77,0.77l-0.77,-0.77z" fill="#2050c0"/>
<path d="M317.2,53.4l1.22,1.22l-1.22,1.22l-1.22,-1.22z" fill="#1a3ce0"/>
<path d="M314.4,29.5l1.06,1.06l-1.06,1.06l-1.06,-1.06z" fill="#0c22a8"/>
<path d="M316.5,46.3l1.16,1.16l-1.16,1.16l-1.16,-1.16z" fill="#a08078"/>
<path d="M316.8,76.5l1.06,1.06l-1.06,1.06l-1.06,-1.06z" fill="#1a3ce0"/>
<path d="M314.2,22.3l1.07,1.07l-1.07,1.07l-1.07,-1.07z" fill="#0c22a8"/>
<path d="M319.0,60.8l1.33,1.33l-1.33,1.33l-1.33,-1.33z" fill="#0c22a8"/>
<path d="M311.0,26.9l1.38,1.38l-1.38,1.38l-1.38,-1.38z" fill="#0c22a8"/>
<path d="M315.3,47.9l1.29,1.29l-1.29,1.29l-1.29,-1.29z" fill="#1a3ce0"/>
<path d="M316.9,64.7l1.25,1.25l-1.25,1.25l-1.25,-1.25z" fill="#0c22a8"/>
<path d="M318.2,68.2l1.27,1.27l-1.27,1.27l-1.27,-1.27z" fill="#1a3ce0"/>
<path d="M312.0,104.5l1.22,1.22l-1.22,1.22l-1.22,-1.22z" fill="#0c22a8"/>
<path d="M305.1,68.2l0.64,0.64l-0.64,0.64l-0.64,-0.64z" fill="#706060"/>
<path d="M315.4,96.8l1.27,1.27l-1.27,1.27l-1.27,-1.27z" fill="#1a3ce0"/>
<path d="M311.0,46.4l1.40,1.40l-1.40,1.40l-1.40,-1.40z" fill="#6f86e8"/>
<path d="M308.4,81.7l0.87,0.87l-0.87,0.87l-0.87,-0.87z" fill="#1a3ce0"/>
<path d="M311.0,25.0l1.34,1.34l-1.34,1.34l-1.34,-1.34z" fill="#1a3ce0"/>
<path d="M315.9,38.4l1.13,1.13l-1.13,1.13l-1.13,-1.13z" fill="#6f86e8"/>
<path d="M304.4,107.6l1.20,1.20l-1.20,1.20l-1.20,-1.20z" fill="#a08078"/>
<path d="M314.7,83.1l1.26,1.26l-1.26,1.26l-1.26,-1.26z" fill="#6f86e8"/>
<path d="M312.0,17.6l1.34,1.34l-1.34,1.34l-1.34,-1.34z" fill="#1a3ce0"/>
<path d="M303.4,52.6l0.65,0.65l-0.65,0.65l-0.65,-0.65z" fill="#7a7a7a"/>
<path d="M313.0,106.4l1.08,1.08l-1.08,1.08l-1.08,-1.08z" fill="#1a3ce0"/>
<path d="M302.4,46.6l0.66,0.66l-0.66,0.66l-0.66,-0.66z" fill="#706060"/>
<path d="M308.0,45.9l1.15,1.15l-1.15,1.15l-1.15,-1.15z" fill="#38c4ea"/>
<path d="M298.1,67.2l0.68,0.68l-0.68,0.68l-0.68,-0.68z" fill="#b07060"/>
<path d="M309.1,36.4l1.00,1.00l-1.00,1.00l-1.00,-1.00z" fill="#1a3ce0"/>
<path d="M301.2,62.4l0.89,0.89l-0.89,0.89l-0.89,-0.89z" fill="#3aa0d8"/>
<path d="M317.0,40.9l1.39,1.39l-1.39,1.39l-1.39,-1.39z" fill="#1a3ce0"/>
<path d="M307.7,85.9l1.03,1.03l-1.03,1.03l-1.03,-1.03z" fill="#a08078"/>
<path d="M314.4,68.7l1.10,1.10l-1.10,1.10l-1.10,-1.10z" fill="#1a3ce0"/>
<path d="M305.1,79.8l0.69,0.69l-0.69,0.69l-0.69,-0.69z" fill="#7a7a7a"/>
<path d="M314.1,68.7l1.06,1.06l-1.06,1.06l-1.06,-1.06z" fill="#6f86e8"/>
<path d="M306.4,65.2l1.22,1.22l-1.22,1.22l-1.22,-1.22z" fill="#1a3ce0"/>
<path d="M313.3,30.5l1.32,1.32l-1.32,1.32l-1.32,-1.32z" fill="#0c22a8"/>
<path d="M311.5,101.7l1.14,1.14l-1.14,1.14l-1.14,-1.14z" fill="#5aa0f0"/>
<path d="M312.4,72.0l1.39,1.39l-1.39,1.39l-1.39,-1.39z" fill="#1a3ce0"/>
<path d="M303.3,78.6l0.85,0.85l-0.85,0.85l-0.85,-0.85z" fill="#a08078"/>
<path d="M310.4,45.5l1.35,1.35l-1.35,1.35l-1.35,-1.35z" fill="#1a3ce0"/>
<path d="M314.9,108.1l1.11,1.11l-1.11,1.11l-1.11,-1.11z" fill="#1a3ce0"/>
<path d="M315.9,43.9l1.14,1.14l-1.14,1.14l-1.14,-1.14z" fill="#1a3ce0"/>
<path d="M314.1,20.9l1.06,1.06l-1.06,1.06l-1.06,-1.06z" fill="#1a3ce0"/>
<path d="M313.0,77.1l1.12,1.12l-1.12,1.12l-1.12,-1.12z" fill="#1a3ce0"/>
<path d="M317.5,64.9l1.35,1.35l-1.35,1.35l-1.35,-1.35z" fill="#6f86e8"/>
<path d="M317.1,47.2l1.06,1.06l-1.06,1.06l-1.06,-1.06z" fill="#1a3ce0"/>
<path d="M307.1,19.2l1.20,1.20l-1.20,1.20l-1.20,-1.20z" fill="#5a9cf0"/>
<path d="M311.9,95.0l1.26,1.26l-1.26,1.26l-1.26,-1.26z" fill="#1a3ce0"/>
<path d="M315.8,91.7l1.17,1.17l-1.17,1.17l-1.17,-1.17z" fill="#0c22a8"/>
<path d="M316.7,57.7l1.37,1.37l-1.37,1.37l-1.37,-1.37z" fill="#6f86e8"/>
<path d="M313.5,46.2l1.09,1.09l-1.09,1.09l-1.09,-1.09z" fill="#1a3ce0"/>
<path d="M312.8,77.8l1.25,1.25l-1.25,1.25l-1.25,-1.25z" fill="#0c22a8"/>
<path d="M314.0,57.1l1.07,1.07l-1.07,1.07l-1.07,-1.07z" fill="#1a3ce0"/>
<path d="M305.2,77.1l0.83,0.83l-0.83,0.83l-0.83,-0.83z" fill="#e09040"/>
<path d="M314.5,37.1l1.34,1.34l-1.34,1.34l-1.34,-1.34z" fill="#1a3ce0"/>
<path d="M307.8,103.9l0.96,0.96l-0.96,0.96l-0.96,-0.96z" fill="#a08078"/>
<path d="M311.1,44.8l1.12,1.12l-1.12,1.12l-1.12,-1.12z" fill="#0c22a8"/>
<path d="M306.4,84.3l1.15,1.15l-1.15,1.15l-1.15,-1.15z" fill="#0c22a8"/>
<path d="M314.0,81.1l1.12,1.12l-1.12,1.12l-1.12,-1.12z" fill="#1a3ce0"/>
<path d="M311.1,66.6l1.11,1.11l-1.11,1.11l-1.11,-1.11z" fill="#1a3ce0"/>
<path d="M312.8,13.9l1.10,1.10l-1.10,1.10l-1.10,-1.10z" fill="#1a3ce0"/>
<path d="M312.2,29.5l1.39,1.39l-1.39,1.39l-1.39,-1.39z" fill="#0c22a8"/>
<path d="M316.1,33.1l1.23,1.23l-1.23,1.23l-1.23,-1.23z" fill="#1a3ce0"/>
<path d="M316.9,41.8l1.25,1.25l-1.25,1.25l-1.25,-1.25z" fill="#1a3ce0"/>
<path d="M311.1,46.2l1.29,1.29l-1.29,1.29l-1.29,-1.29z" fill="#1a3ce0"/>
<path d="M315.0,99.9l1.30,1.30l-1.30,1.30l-1.30,-1.30z" fill="#0c22a8"/>
<path d="M308.0,82.7l0.97,0.97l-0.97,0.97l-0.97,-0.97z" fill="#0c22a8"/>
<path d="M314.6,72.1l1.33,1.33l-1.33,1.33l-1.33,-1.33z" fill="#1a3ce0"/>
<path d="M312.1,32.9l1.35,1.35l-1.35,1.35l-1.35,-1.35z" fill="#1a3ce0"/>
<path d="M314.3,65.4l1.08,1.08l-1.08,1.08l-1.08,-1.08z" fill="#5aa0f0"/>
<path d="M315.8,76.2l1.20,1.20l-1.20,1.20l-1.20,-1.20z" fill="#1a3ce0"/>
<path d="M318.2,67.1l1.28,1.28l-1.28,1.28l-1.28,-1.28z" fill="#0c22a8"/>
<path d="M307.3,36.8l1.05,1.05l-1.05,1.05l-1.05,-1.05z" fill="#1a3ce0"/>
<path d="M311.2,27.1l1.19,1.19l-1.19,1.19l-1.19,-1.19z" fill="#1a3ce0"/>
<path d="M314.1,102.8l1.25,1.25l-1.25,1.25l-1.25,-1.25z" fill="#5aa0f0"/>
<path d="M298.2,102.7l0.60,0.60l-0.60,0.60l-0.60,-0.60z" fill="#b07060"/>
<path d="M308.3,85.0l1.19,1.19l-1.19,1.19l-1.19,-1.19z" fill="#1a3ce0"/>
<path d="M311.9,52.1l1.20,1.20l-1.20,1.20l-1.20,-1.20z" fill="#5aa0f0"/>
<path d="M305.2,14.8l1.05,1.05l-1.05,1.05l-1.05,-1.05z" fill="#5a9cf0"/>
<path d="M310.1,102.5l1.25,1.25l-1.25,1.25l-1.25,-1.25z" fill="#1a3ce0"/>
<path d="M317.4,67.9l1.23,1.23l-1.23,1.23l-1.23,-1.23z" fill="#6f86e8"/>
<path d="M311.4,107.7l1.19,1.19l-1.19,1.19l-1.19,-1.19z" fill="#1a3ce0"/>
<path d="M312.2,50.3l1.09,1.09l-1.09,1.09l-1.09,-1.09z" fill="#1a3ce0"/>
<path d="M310.8,62.1l1.14,1.14l-1.14,1.14l-1.14,-1.14z" fill="#1a3ce0"/>
<path d="M316.8,50.8l1.25,1.25l-1.25,1.25l-1.25,-1.25z" fill="#1a3ce0"/>
<path d="M306.4,47.0l1.12,1.12l-1.12,1.12l-1.12,-1.12z" fill="#5a9cf0"/>
<path d="M306.0,64.2l0.92,0.92l-0.92,0.92l-0.92,-0.92z" fill="#1a3ce0"/>
<path d="M318.5,50.3l1.21,1.21l-1.21,1.21l-1.21,-1.21z" fill="#0c22a8"/>
<path d="M314.4,106.3l1.38,1.38l-1.38,1.38l-1.38,-1.38z" fill="#a08078"/>
<path d="M317.3,54.0l1.12,1.12l-1.12,1.12l-1.12,-1.12z" fill="#6f86e8"/>
<path d="M314.3,87.8l1.31,1.31l-1.31,1.31l-1.31,-1.31z" fill="#0c22a8"/>
<path d="M318.7,55.3l1.28,1.28l-1.28,1.28l-1.28,-1.28z" fill="#6f86e8"/>
<path d="M305.5,74.0l0.67,0.67l-0.67,0.67l-0.67,-0.67z" fill="#7a7a7a"/>
<path d="M306.5,32.3l1.22,1.22l-1.22,1.22l-1.22,-1.22z" fill="#0c22a8"/>
<path d="M297.9,46.5l0.62,0.62l-0.62,0.62l-0.62,-0.62z" fill="#b07060"/>
<path d="M310.6,38.6l1.20,1.20l-1.20,1.20l-1.20,-1.20z" fill="#1a3ce0"/>
<path d="M316.2,46.4l1.18,1.18l-1.18,1.18l-1.18,-1.18z" fill="#1a3ce0"/>
<path d="M314.4,42.0l1.35,1.35l-1.35,1.35l-1.35,-1.35z" fill="#1a3ce0"/>
<path d="M317.4,44.0l1.33,1.33l-1.33,1.33l-1.33,-1.33z" fill="#a08078"/>
<path d="M309.8,99.2l1.39,1.39l-1.39,1.39l-1.39,-1.39z" fill="#1a3ce0"/>
<path d="M306.7,73.8l1.09,1.09l-1.09,1.09l-1.09,-1.09z" fill="#1a3ce0"/>
<path d="M309.7,77.6l0.94,0.94l-0.94,0.94l-0.94,-0.94z" fill="#5a9cf0"/>
<path d="M314.2,41.2l1.12,1.12l-1.12,1.12l-1.12,-1.12z" fill="#0c22a8"/>
<path d="M309.1,101.0l1.31,1.31l-1.31,1.31l-1.31,-1.31z" fill="#1a3ce0"/>
<path d="M313.9,28.3l1.07,1.07l-1.07,1.07l-1.07,-1.07z" fill="#5aa0f0"/>
<path d="M309.3,17.8l1.33,1.33l-1.33,1.33l-1.33,-1.33z" fill="#0c22a8"/>
<path d="M305.6,103.8l1.20,1.20l-1.20,1.20l-1.20,-1.20z" fill="#5a9cf0"/>
<path d="M310.7,72.9l1.29,1.29l-1.29,1.29l-1.29,-1.29z" fill="#0c22a8"/>
<path d="M299.7,73.7l0.80,0.80l-0.80,0.80l-0.80,-0.80z" fill="#a08078"/>
<path d="M312.3,31.5l1.28,1.28l-1.28,1.28l-1.28,-1.28z" fill="#6f86e8"/>
<path d="M308.8,19.1l1.14,1.14l-1.14,1.14l-1.14,-1.14z" fill="#0c22a8"/>
<path d="M307.5,43.9l1.25,1.25l-1.25,1.25l-1.25,-1.25z" fill="#a08078"/>
<path d="M312.8,41.1l1.09,1.09l-1.09,1.09l-1.09,-1.09z" fill="#6f86e8"/>
<path d="M305.3,16.3l0.87,0.87l-0.87,0.87l-0.87,-0.87z" fill="#a08078"/>
<path d="M308.3,15.5l1.13,1.13l-1.13,1.13l-1.13,-1.13z" fill="#0c22a8"/>
<path d="M304.2,44.6l0.73,0.73l-0.73,0.73l-0.73,-0.73z" fill="#b07060"/>
<path d="M317.4,67.0l1.19,1.19l-1.19,1.19l-1.19,-1.19z" fill="#0c22a8"/>
<path d="M309.1,106.4l1.18,1.18l-1.18,1.18l-1.18,-1.18z" fill="#0c22a8"/>
<path d="M310.4,49.5l1.24,1.24l-1.24,1.24l-1.24,-1.24z" fill="#5aa0f0"/>
<path d="M313.3,106.7l1.20,1.20l-1.20,1.20l-1.20,-1.20z" fill="#0c22a8"/>
<path d="M315.6,81.8l1.07,1.07l-1.07,1.07l-1.07,-1.07z" fill="#0c22a8"/>
<path d="M311.1,37.0l1.30,1.30l-1.30,1.30l-1.30,-1.30z" fill="#0c22a8"/>
<path d="M312.9,60.6l1.06,1.06l-1.06,1.06l-1.06,-1.06z" fill="#0c22a8"/>
<path d="M308.6,91.7l1.12,1.12l-1.12,1.12l-1.12,-1.12z" fill="#1a3ce0"/>
<path d="M313.1,29.6l1.25,1.25l-1.25,1.25l-1.25,-1.25z" fill="#1a3ce0"/>
<path d="M312.5,47.6l1.11,1.11l-1.11,1.11l-1.11,-1.11z" fill="#38c4ea"/>
<path d="M313.4,107.9l1.17,1.17l-1.17,1.17l-1.17,-1.17z" fill="#38c4ea"/>
<path d="M314.9,39.2l1.38,1.38l-1.38,1.38l-1.38,-1.38z" fill="#6f86e8"/>
<path d="M308.4,39.6l0.90,0.90l-0.90,0.90l-0.90,-0.90z" fill="#0c22a8"/>
<path d="M314.0,31.8l1.05,1.05l-1.05,1.05l-1.05,-1.05z" fill="#38c4ea"/>
<path d="M314.0,85.7l1.11,1.11l-1.11,1.11l-1.11,-1.11z" fill="#0c22a8"/>
<path d="M314.3,44.2l1.28,1.28l-1.28,1.28l-1.28,-1.28z" fill="#5aa0f0"/>
<path d="M300.5,106.4l0.62,0.62l-0.62,0.62l-0.62,-0.62z" fill="#b07060"/>
<path d="M312.4,100.3l1.39,1.39l-1.39,1.39l-1.39,-1.39z" fill="#6f86e8"/>
<path d="M307.1,33.8l0.89,0.89l-0.89,0.89l-0.89,-0.89z" fill="#1a3ce0"/>
<path d="M313.3,13.5l1.39,1.39l-1.39,1.39l-1.39,-1.39z" fill="#1a3ce0"/>
<path d="M308.0,12.4l1.23,1.23l-1.23,1.23l-1.23,-1.23z" fill="#0c22a8"/>
<path d="M307.5,70.6l0.90,0.90l-0.90,0.90l-0.90,-0.90z" fill="#a08078"/>
<path d="M305.7,58.7l1.00,1.00l-1.00,1.00l-1.00,-1.00z" fill="#1a3ce0"/>
<path d="M309.9,55.0l0.90,0.90l-0.90,0.90l-0.90,-0.90z" fill="#0c22a8"/>
<path d="M310.3,38.8l1.38,1.38l-1.38,1.38l-1.38,-1.38z" fill="#5aa0f0"/>
<path d="M303.4,92.0l0.74,0.74l-0.74,0.74l-0.74,-0.74z" fill="#e09040"/>
<path d="M306.5,77.2l1.20,1.20l-1.20,1.20l-1.20,-1.20z" fill="#a08078"/>
<path d="M314.9,24.9l1.21,1.21l-1.21,1.21l-1.21,-1.21z" fill="#1a3ce0"/>
<path d="M315.5,45.4l1.16,1.16l-1.16,1.16l-1.16,-1.16z" fill="#0c22a8"/>
<path d="M303.7,102.1l0.75,0.75l-0.75,0.75l-0.75,-0.75z" fill="#b07060"/>
<path d="M310.1,21.2l1.26,1.26l-1.26,1.26l-1.26,-1.26z" fill="#6f86e8"/>
<path d="M308.1,83.8l1.23,1.23l-1.23,1.23l-1.23,-1.23z" fill="#a08078"/>
<path d="M312.0,39.1l1.10,1.10l-1.10,1.10l-1.10,-1.10z" fill="#5aa0f0"/>
<path d="M306.3,81.9l0.87,0.87l-0.87,0.87l-0.87,-0.87z" fill="#1a3ce0"/>
<path d="M314.4,46.7l1.34,1.34l-1.34,1.34l-1.34,-1.34z" fill="#1a3ce0"/>
<path d="M311.5,93.5l1.08,1.08l-1.08,1.08l-1.08,-1.08z" fill="#1a3ce0"/>
<path d="M307.0,102.8l1.19,1.19l-1.19,1.19l-1.19,-1.19z" fill="#d09050"/>
<path d="M312.0,12.9l1.34,1.34l-1.34,1.34l-1.34,-1.34z" fill="#1a3ce0"/>
<path d="M309.5,90.3l1.21,1.21l-1.21,1.21l-1.21,-1.21z" fill="#0c22a8"/>
<path d="M309.4,86.3l1.37,1.37l-1.37,1.37l-1.37,-1.37z" fill="#1a3ce0"/>
<path d="M318.4,69.8l1.27,1.27l-1.27,1.27l-1.27,-1.27z" fill="#1a3ce0"/>
<path d="M309.3,66.7l1.23,1.23l-1.23,1.23l-1.23,-1.23z" fill="#0c22a8"/>
<path d="M305.4,19.9l1.01,1.01l-1.01,1.01l-1.01,-1.01z" fill="#0c22a8"/>
<path d="M318.7,66.4l1.26,1.26l-1.26,1.26l-1.26,-1.26z" fill="#1a3ce0"/>
<path d="M306.2,95.4l0.97,0.97l-0.97,0.97l-0.97,-0.97z" fill="#8a8a8a"/>
<path d="M313.9,28.4l1.31,1.31l-1.31,1.31l-1.31,-1.31z" fill="#6f86e8"/>
<path d="M307.1,64.9l1.02,1.02l-1.02,1.02l-1.02,-1.02z" fill="#38c4ea"/>
<path d="M309.5,101.6l1.14,1.14l-1.14,1.14l-1.14,-1.14z" fill="#6f86e8"/>
<path d="M306.2,47.2l1.07,1.07l-1.07,1.07l-1.07,-1.07z" fill="#38c4ea"/>
<path d="M306.8,41.2l1.14,1.14l-1.14,1.14l-1.14,-1.14z" fill="#a08078"/>
<path d="M310.5,32.1l1.05,1.05l-1.05,1.05l-1.05,-1.05z" fill="#5aa0f0"/>
<path d="M315.2,24.4l1.22,1.22l-1.22,1.22l-1.22,-1.22z" fill="#38c4ea"/>
<path d="M306.8,81.9l0.92,0.92l-0.92,0.92l-0.92,-0.92z" fill="#0c22a8"/>
<path d="M307.6,105.7l0.94,0.94l-0.94,0.94l-0.94,-0.94z" fill="#1a3ce0"/>
<path d="M312.2,77.3l1.32,1.32l-1.32,1.32l-1.32,-1.32z" fill="#0c22a8"/>
<path d="M313.0,104.6l1.27,1.27l-1.27,1.27l-1.27,-1.27z" fill="#6f86e8"/>
<path d="M308.5,23.7l1.08,1.08l-1.08,1.08l-1.08,-1.08z" fill="#1a3ce0"/>
<path d="M305.3,14.4l1.07,1.07l-1.07,1.07l-1.07,-1.07z" fill="#1a3ce0"/>
<path d="M314.2,13.6l1.33,1.33l-1.33,1.33l-1.33,-1.33z" fill="#0c22a8"/>
<path d="M313.0,87.6l1.39,1.39l-1.39,1.39l-1.39,-1.39z" fill="#0c22a8"/>
<path d="M310.2,67.0l0.89,0.89l-0.89,0.89l-0.89,-0.89z" fill="#0c22a8"/>
<path d="M316.2,68.8l1.23,1.23l-1.23,1.23l-1.23,-1.23z" fill="#1a3ce0"/>
<path d="M316.5,68.7l1.22,1.22l-1.22,1.22l-1.22,-1.22z" fill="#0c22a8"/>
<path d="M311.7,27.7l1.33,1.33l-1.33,1.33l-1.33,-1.33z" fill="#6f86e8"/>
<path d="M312.6,31.2l1.12,1.12l-1.12,1.12l-1.12,-1.12z" fill="#1a3ce0"/>
<path d="M315.3,64.2l1.27,1.27l-1.27,1.27l-1.27,-1.27z" fill="#0c22a8"/>
<path d="M312.3,86.7l1.18,1.18l-1.18,1.18l-1.18,-1.18z" fill="#0c22a8"/>
<path d="M313.4,98.7l1.09,1.09l-1.09,1.09l-1.09,-1.09z" fill="#0c22a8"/>
<path d="M310.5,91.0l1.31,1.31l-1.31,1.31l-1.31,-1.31z" fill="#0c22a8"/>
<path d="M309.6,96.3l1.08,1.08l-1.08,1.08l-1.08,-1.08z" fill="#1a3ce0"/>
<path d="M314.6,99.1l1.07,1.07l-1.07,1.07l-1.07,-1.07z" fill="#6f86e8"/>
<path d="M316.1,80.0l1.22,1.22l-1.22,1.22l-1.22,-1.22z" fill="#5aa0f0"/>
<path d="M311.7,97.4l1.38,1.38l-1.38,1.38l-1.38,-1.38z" fill="#6f86e8"/>
<path d="M312.0,40.2l1.21,1.21l-1.21,1.21l-1.21,-1.21z" fill="#0c22a8"/>
<path d="M316.2,52.0l1.16,1.16l-1.16,1.16l-1.16,-1.16z" fill="#1a3ce0"/>
<path d="M311.3,76.4l1.09,1.09l-1.09,1.09l-1.09,-1.09z" fill="#6f86e8"/>
<path d="M314.1,93.9l1.18,1.18l-1.18,1.18l-1.18,-1.18z" fill="#1a3ce0"/>
<path d="M312.2,19.3l1.19,1.19l-1.19,1.19l-1.19,-1.19z" fill="#38c4ea"/>
<path d="M314.5,63.1l1.38,1.38l-1.38,1.38l-1.38,-1.38z" fill="#0c22a8"/>
<path d="M314.2,98.1l1.18,1.18l-1.18,1.18l-1.18,-1.18z" fill="#1a3ce0"/>
<path d="M317.2,51.2l1.28,1.28l-1.28,1.28l-1.28,-1.28z" fill="#1a3ce0"/>
<path d="M314.4,86.0l1.14,1.14l-1.14,1.14l-1.14,-1.14z" fill="#38c4ea"/>
<path d="M306.9,61.7l1.08,1.08l-1.08,1.08l-1.08,-1.08z" fill="#1a3ce0"/>
<path d="M310.6,69.3l1.29,1.29l-1.29,1.29l-1.29,-1.29z" fill="#5aa0f0"/>
<path d="M305.8,85.4l0.96,0.96l-0.96,0.96l-0.96,-0.96z" fill="#38c4ea"/>
<path d="M312.5,105.5l1.35,1.35l-1.35,1.35l-1.35,-1.35z" fill="#1a3ce0"/>
<path d="M313.4,69.7l1.30,1.30l-1.30,1.30l-1.30,-1.30z" fill="#0c22a8"/>
<path d="M311.1,41.9l1.18,1.18l-1.18,1.18l-1.18,-1.18z" fill="#6f86e8"/>
<path d="M311.2,86.5l1.23,1.23l-1.23,1.23l-1.23,-1.23z" fill="#a08078"/>
<path d="M296.3,54.4l0.71,0.71l-0.71,0.71l-0.71,-0.71z" fill="#3aa0d8"/>
<path d="M310.6,95.9l1.35,1.35l-1.35,1.35l-1.35,-1.35z" fill="#5aa0f0"/>
<path d="M306.8,15.8l0.87,0.87l-0.87,0.87l-0.87,-0.87z" fill="#38c4ea"/>
<path d="M311.1,42.7l1.38,1.38l-1.38,1.38l-1.38,-1.38z" fill="#0c22a8"/>
<path d="M314.8,16.0l1.10,1.10l-1.10,1.10l-1.10,-1.10z" fill="#5aa0f0"/>
<path d="M318.6,67.9l1.32,1.32l-1.32,1.32l-1.32,-1.32z" fill="#1a3ce0"/>
<path d="M309.1,97.7l1.29,1.29l-1.29,1.29l-1.29,-1.29z" fill="#6f86e8"/>
<path d="M306.2,15.9l1.01,1.01l-1.01,1.01l-1.01,-1.01z" fill="#38c4ea"/>
<path d="M318.5,61.6l1.10,1.10l-1.10,1.10l-1.10,-1.10z" fill="#1a3ce0"/>
<path d="M314.6,70.9l1.17,1.17l-1.17,1.17l-1.17,-1.17z" fill="#5aa0f0"/>
<path d="M310.7,89.5l1.08,1.08l-1.08,1.08l-1.08,-1.08z" fill="#0c22a8"/>
<path d="M312.4,51.1l1.07,1.07l-1.07,1.07l-1.07,-1.07z" fill="#1a3ce0"/>
<path d="M315.5,54.6l1.13,1.13l-1.13,1.13l-1.13,-1.13z" fill="#1a3ce0"/>
<path d="M315.4,29.5l1.33,1.33l-1.33,1.33l-1.33,-1.33z" fill="#0c22a8"/>
<path d="M315.9,37.6l1.18,1.18l-1.18,1.18l-1.18,-1.18z" fill="#0c22a8"/>
<path d="M307.0,50.3l0.97,0.97l-0.97,0.97l-0.97,-0.97z" fill="#1a3ce0"/>
<path d="M318.0,65.5l1.10,1.10l-1.10,1.10l-1.10,-1.10z" fill="#1a3ce0"/>
<path d="M313.6,43.5l1.23,1.23l-1.23,1.23l-1.23,-1.23z" fill="#0c22a8"/>
<path d="M312.3,86.2l1.35,1.35l-1.35,1.35l-1.35,-1.35z" fill="#0c22a8"/>
<path d="M307.9,21.6l1.00,1.00l-1.00,1.00l-1.00,-1.00z" fill="#5a9cf0"/>
<path d="M299.8,40.1l0.70,0.70l-0.70,0.70l-0.70,-0.70z" fill="#b07060"/>
<path d="M310.4,16.1l1.34,1.34l-1.34,1.34l-1.34,-1.34z" fill="#0c22a8"/>
<path d="M313.2,84.2l1.30,1.30l-1.30,1.30l-1.30,-1.30z" fill="#6f86e8"/>
<path d="M316.7,75.6l1.31,1.31l-1.31,1.31l-1.31,-1.31z" fill="#6f86e8"/>
<path d="M307.2,77.5l1.22,1.22l-1.22,1.22l-1.22,-1.22z" fill="#1a3ce0"/>
<path d="M310.3,19.1l1.19,1.19l-1.19,1.19l-1.19,-1.19z" fill="#0c22a8"/>
<path d="M308.9,55.5l1.17,1.17l-1.17,1.17l-1.17,-1.17z" fill="#1a3ce0"/>
<path d="M301.8,23.1l0.65,0.65l-0.65,0.65l-0.65,-0.65z" fill="#e09040"/>
<path d="M309.9,59.4l1.24,1.24l-1.24,1.24l-1.24,-1.24z" fill="#1a3ce0"/>
<path d="M310.4,52.4l1.09,1.09l-1.09,1.09l-1.09,-1.09z" fill="#5aa0f0"/>
<path d="M310.7,72.1l1.10,1.10l-1.10,1.10l-1.10,-1.10z" fill="#0c22a8"/>
<path d="M308.9,40.6l1.07,1.07l-1.07,1.07l-1.07,-1.07z" fill="#0c22a8"/>
<path d="M300.6,22.5l0.64,0.64l-0.64,0.64l-0.64,-0.64z" fill="#2050c0"/>
<path d="M305.8,41.9l0.80,0.80l-0.80,0.80l-0.80,-0.80z" fill="#b04050"/>
<path d="M307.3,34.8l0.91,0.91l-0.91,0.91l-0.91,-0.91z" fill="#5a9cf0"/>
<path d="M309.9,103.6l1.21,1.21l-1.21,1.21l-1.21,-1.21z" fill="#1a3ce0"/>
<path d="M310.3,59.8l1.23,1.23l-1.23,1.23l-1.23,-1.23z" fill="#1a3ce0"/>
<path d="M314.9,27.7l1.39,1.39l-1.39,1.39l-1.39,-1.39z" fill="#1a3ce0"/>
<path d="M310.7,65.3l1.13,1.13l-1.13,1.13l-1.13,-1.13z" fill="#6f86e8"/>
<path d="M312.4,89.5l1.05,1.05l-1.05,1.05l-1.05,-1.05z" fill="#1a3ce0"/>
<path d="M318.1,51.7l1.35,1.35l-1.35,1.35l-1.35,-1.35z" fill="#1a3ce0"/>
<path d="M312.7,18.0l1.14,1.14l-1.14,1.14l-1.14,-1.14z" fill="#1a3ce0"/>
<path d="M299.9,70.1l0.69,0.69l-0.69,0.69l-0.69,-0.69z" fill="#b07060"/>
<path d="M309.0,99.4l1.31,1.31l-1.31,1.31l-1.31,-1.31z" fill="#0c22a8"/>
<path d="M309.3,31.0l1.04,1.04l-1.04,1.04l-1.04,-1.04z" fill="#1a3ce0"/>
<path d="M315.3,58.1l1.18,1.18l-1.18,1.18l-1.18,-1.18z" fill="#6f86e8"/>
<path d="M313.3,88.9l1.12,1.12l-1.12,1.12l-1.12,-1.12z" fill="#0c22a8"/>
<path d="M317.3,42.8l1.23,1.23l-1.23,1.23l-1.23,-1.23z" fill="#6f86e8"/>
<path d="M313.6,62.6l1.07,1.07l-1.07,1.07l-1.07,-1.07z" fill="#6f86e8"/>
<path d="M316.6,72.8l1.14,1.14l-1.14,1.14l-1.14,-1.14z" fill="#1a3ce0"/>
<path d="M310.3,71.6l1.08,1.08l-1.08,1.08l-1.08,-1.08z" fill="#c04050"/>
<path d="M316.1,50.9l1.16,1.16l-1.16,1.16l-1.16,-1.16z" fill="#38c4ea"/>
<path d="M313.8,38.2l1.28,1.28l-1.28,1.28l-1.28,-1.28z" fill="#1a3ce0"/>
<path d="M308.7,41.8l1.21,1.21l-1.21,1.21l-1.21,-1.21z" fill="#1a3ce0"/>
<path d="M317.6,74.1l1.29,1.29l-1.29,1.29l-1.29,-1.29z" fill="#0c22a8"/>
<path d="M312.4,31.9l1.33,1.33l-1.33,1.33l-1.33,-1.33z" fill="#0c22a8"/>
<path d="M314.3,75.4l1.35,1.35l-1.35,1.35l-1.35,-1.35z" fill="#1a3ce0"/>
<path d="M305.6,23.1l1.10,1.10l-1.10,1.10l-1.10,-1.10z" fill="#a08078"/>
<path d="M306.4,54.7l1.04,1.04l-1.04,1.04l-1.04,-1.04z" fill="#1a3ce0"/>
<path d="M311.7,81.2l1.09,1.09l-1.09,1.09l-1.09,-1.09z" fill="#6f86e8"/>
<path d="M314.5,45.0l1.13,1.13l-1.13,1.13l-1.13,-1.13z" fill="#0c22a8"/>
<path d="M305.4,90.4l0.97,0.97l-0.97,0.97l-0.97,-0.97z" fill="#5a9cf0"/>
<path d="M306.4,19.4l0.92,0.92l-0.92,0.92l-0.92,-0.92z" fill="#a08078"/>
<path d="M311.0,46.7l1.16,1.16l-1.16,1.16l-1.16,-1.16z" fill="#1a3ce0"/>
<path d="M310.5,41.4l1.16,1.16l-1.16,1.16l-1.16,-1.16z" fill="#1a3ce0"/>
<path d="M315.7,99.4l1.10,1.10l-1.10,1.10l-1.10,-1.10z" fill="#1a3ce0"/>
<path d="M315.9,37.1l1.10,1.10l-1.10,1.10l-1.10,-1.10z" fill="#0c22a8"/>
<path d="M314.6,43.8l1.24,1.24l-1.24,1.24l-1.24,-1.24z" fill="#1a3ce0"/>
<path d="M307.8,87.1l1.10,1.10l-1.10,1.10l-1.10,-1.10z" fill="#5a9cf0"/>
<path d="M309.2,12.7l1.16,1.16l-1.16,1.16l-1.16,-1.16z" fill="#0c22a8"/>
<path d="M309.1,91.8l1.15,1.15l-1.15,1.15l-1.15,-1.15z" fill="#0c22a8"/>
<path d="M308.8,44.0l1.19,1.19l-1.19,1.19l-1.19,-1.19z" fill="#8a8a8a"/>
<path d="M309.0,17.5l1.29,1.29l-1.29,1.29l-1.29,-1.29z" fill="#6f86e8"/>
<path d="M312.6,92.2l1.19,1.19l-1.19,1.19l-1.19,-1.19z" fill="#0c22a8"/>
<path d="M314.9,30.1l1.23,1.23l-1.23,1.23l-1.23,-1.23z" fill="#0c22a8"/>
<path d="M314.4,45.7l1.13,1.13l-1.13,1.13l-1.13,-1.13z" fill="#0c22a8"/>
<path d="M310.6,100.1l1.06,1.06l-1.06,1.06l-1.06,-1.06z" fill="#a08078"/>
<path d="M313.7,29.0l1.17,1.17l-1.17,1.17l-1.17,-1.17z" fill="#1a3ce0"/>
<path d="M309.5,103.4l1.31,1.31l-1.31,1.31l-1.31,-1.31z" fill="#1a3ce0"/>
<path d="M310.6,32.0l1.39,1.39l-1.39,1.39l-1.39,-1.39z" fill="#1a3ce0"/>
<path d="M309.2,94.6l1.25,1.25l-1.25,1.25l-1.25,-1.25z" fill="#0c22a8"/>
<path d="M315.8,87.5l1.28,1.28l-1.28,1.28l-1.28,-1.28z" fill="#1a3ce0"/>
<path d="M309.1,39.3l1.03,1.03l-1.03,1.03l-1.03,-1.03z" fill="#d09050"/>
<path d="M313.4,51.6l1.09,1.09l-1.09,1.09l-1.09,-1.09z" fill="#6f86e8"/>
<path d="M312.0,39.6l1.09,1.09l-1.09,1.09l-1.09,-1.09z" fill="#5aa0f0"/>
<path d="M310.2,81.2l1.20,1.20l-1.20,1.20l-1.20,-1.20z" fill="#1a3ce0"/>
<path d="M316.4,70.3l1.12,1.12l-1.12,1.12l-1.12,-1.12z" fill="#1a3ce0"/>
<path d="M310.6,80.1l1.27,1.27l-1.27,1.27l-1.27,-1.27z" fill="#6f86e8"/>
<path d="M317.1,63.0l1.28,1.28l-1.28,1.28l-1.28,-1.28z" fill="#6f86e8"/>
<path d="M304.2,95.3l1.08,1.08l-1.08,1.08l-1.08,-1.08z" fill="#5a9cf0"/>
<path d="M305.8,27.0l1.24,1.24l-1.24,1.24l-1.24,-1.24z" fill="#1a3ce0"/>
<path d="M313.5,83.7l1.11,1.11l-1.11,1.11l-1.11,-1.11z" fill="#0c22a8"/>
<path d="M296.4,49.1l0.86,0.86l-0.86,0.86l-0.86,-0.86z" fill="#8a3040"/>
<path d="M318.9,64.5l1.08,1.08l-1.08,1.08l-1.08,-1.08z" fill="#5aa0f0"/>
<path d="M308.4,87.0l1.12,1.12l-1.12,1.12l-1.12,-1.12z" fill="#a08078"/>
<path d="M305.5,101.5l1.13,1.13l-1.13,1.13l-1.13,-1.13z" fill="#1a3ce0"/>
<path d="M314.5,46.5l1.11,1.11l-1.11,1.11l-1.11,-1.11z" fill="#1a3ce0"/>
<path d="M314.8,60.2l1.14,1.14l-1.14,1.14l-1.14,-1.14z" fill="#1a3ce0"/>
<path d="M312.0,14.8l1.11,1.11l-1.11,1.11l-1.11,-1.11z" fill="#1a3ce0"/>
<path d="M316.4,38.2l1.07,1.07l-1.07,1.07l-1.07,-1.07z" fill="#1a3ce0"/>
<path d="M304.4,101.3l0.99,0.99l-0.99,0.99l-0.99,-0.99z" fill="#8a8a8a"/>
<path d="M312.8,88.2l1.27,1.27l-1.27,1.27l-1.27,-1.27z" fill="#0c22a8"/>
<path d="M311.2,47.1l1.07,1.07l-1.07,1.07l-1.07,-1.07z" fill="#1a3ce0"/>
<path d="M306.1,89.9l1.22,1.22l-1.22,1.22l-1.22,-1.22z" fill="#1a3ce0"/>
<path d="M306.0,77.7l1.04,1.04l-1.04,1.04l-1.04,-1.04z" fill="#1a3ce0"/>
<path d="M315.5,59.6l1.28,1.28l-1.28,1.28l-1.28,-1.28z" fill="#1a3ce0"/>
<path d="M312.1,17.9l1.40,1.40l-1.40,1.40l-1.40,-1.40z" fill="#0c22a8"/>
<path d="M309.5,28.5l1.25,1.25l-1.25,1.25l-1.25,-1.25z" fill="#0c22a8"/>
<path d="M308.9,84.0l0.87,0.87l-0.87,0.87l-0.87,-0.87z" fill="#1a3ce0"/>
<path d="M304.9,104.9l0.86,0.86l-0.86,0.86l-0.86,-0.86z" fill="#38c4ea"/>
<path d="M308.5,67.9l1.03,1.03l-1.03,1.03l-1.03,-1.03z" fill="#5a9cf0"/>
<path d="M309.9,41.8l1.02,1.02l-1.02,1.02l-1.02,-1.02z" fill="#38c4ea"/>
<path d="M316.7,59.7l1.38,1.38l-1.38,1.38l-1.38,-1.38z" fill="#1a3ce0"/>
<path d="M312.7,39.4l1.15,1.15l-1.15,1.15l-1.15,-1.15z" fill="#1a3ce0"/>
<path d="M304.0,62.0l0.88,0.88l-0.88,0.88l-0.88,-0.88z" fill="#a08078"/>
<path d="M306.4,37.9l0.99,0.99l-0.99,0.99l-0.99,-0.99z" fill="#5a9cf0"/>
<path d="M315.5,63.4l1.30,1.30l-1.30,1.30l-1.30,-1.30z" fill="#1a3ce0"/>
<path d="M315.1,43.2l1.22,1.22l-1.22,1.22l-1.22,-1.22z" fill="#6f86e8"/>
<path d="M314.1,39.5l1.16,1.16l-1.16,1.16l-1.16,-1.16z" fill="#1a3ce0"/>
<path d="M305.3,80.9l0.64,0.64l-0.64,0.64l-0.64,-0.64z" fill="#b07060"/>
<path d="M316.0,52.4l1.26,1.26l-1.26,1.26l-1.26,-1.26z" fill="#6f86e8"/>
<path d="M305.8,95.1l1.16,1.16l-1.16,1.16l-1.16,-1.16z" fill="#5a9cf0"/>
<path d="M299.1,63.3l0.70,0.70l-0.70,0.70l-0.70,-0.70z" fill="#706060"/>
<path d="M303.6,89.4l0.67,0.67l-0.67,0.67l-0.67,-0.67z" fill="#7a7a7a"/>
<path d="M316.3,65.3l1.31,1.31l-1.31,1.31l-1.31,-1.31z" fill="#1a3ce0"/>
<path d="M303.2,72.9l0.66,0.66l-0.66,0.66l-0.66,-0.66z" fill="#a08078"/>
<path d="M314.0,33.7l1.13,1.13l-1.13,1.13l-1.13,-1.13z" fill="#6f86e8"/>
<path d="M314.7,21.0l1.26,1.26l-1.26,1.26l-1.26,-1.26z" fill="#0c22a8"/>
<path d="M314.1,25.9l1.06,1.06l-1.06,1.06l-1.06,-1.06z" fill="#0c22a8"/>
<path d="M314.1,46.0l1.35,1.35l-1.35,1.35l-1.35,-1.35z" fill="#0c22a8"/>
<path d="M312.8,34.8l1.18,1.18l-1.18,1.18l-1.18,-1.18z" fill="#0c22a8"/>
<path d="M306.7,82.2l1.18,1.18l-1.18,1.18l-1.18,-1.18z" fill="#0c22a8"/>
<path d="M307.8,100.6l1.23,1.23l-1.23,1.23l-1.23,-1.23z" fill="#a08078"/>
<path d="M312.0,84.8l1.06,1.06l-1.06,1.06l-1.06,-1.06z" fill="#38c4ea"/>
<path d="M309.3,26.1l1.33,1.33l-1.33,1.33l-1.33,-1.33z" fill="#6f86e8"/>
<path d="M316.2,71.7l1.33,1.33l-1.33,1.33l-1.33,-1.33z" fill="#1a3ce0"/>
<path d="M309.7,42.4l1.05,1.05l-1.05,1.05l-1.05,-1.05z" fill="#0c22a8"/>
<path d="M310.7,37.9l1.14,1.14l-1.14,1.14l-1.14,-1.14z" fill="#1a3ce0"/>
<path d="M311.5,83.4l1.22,1.22l-1.22,1.22l-1.22,-1.22z" fill="#1a3ce0"/>
<path d="M314.8,77.9l1.27,1.27l-1.27,1.27l-1.27,-1.27z" fill="#0c22a8"/>
<path d="M305.0,98.0l0.93,0.93l-0.93,0.93l-0.93,-0.93z" fill="#1a3ce0"/>
<path d="M309.9,81.7l1.12,1.12l-1.12,1.12l-1.12,-1.12z" fill="#38c4ea"/>
<path d="M312.6,59.4l1.28,1.28l-1.28,1.28l-1.28,-1.28z" fill="#6f86e8"/>
<path d="M306.8,20.6l1.12,1.12l-1.12,1.12l-1.12,-1.12z" fill="#0c22a8"/>
<path d="M314.9,45.5l1.38,1.38l-1.38,1.38l-1.38,-1.38z" fill="#0c22a8"/>
<path d="M314.4,17.3l1.37,1.37l-1.37,1.37l-1.37,-1.37z" fill="#1a3ce0"/>
<path d="M310.5,62.1l1.06,1.06l-1.06,1.06l-1.06,-1.06z" fill="#1a3ce0"/>
<path d="M314.8,52.7l1.14,1.14l-1.14,1.14l-1.14,-1.14z" fill="#1a3ce0"/>
<path d="M308.0,108.2l0.92,0.92l-0.92,0.92l-0.92,-0.92z" fill="#a08078"/>
<path d="M311.0,76.7l1.08,1.08l-1.08,1.08l-1.08,-1.08z" fill="#0c22a8"/>
<path d="M304.7,98.3l1.24,1.24l-1.24,1.24l-1.24,-1.24z" fill="#0c22a8"/>
<path d="M310.9,67.6l1.32,1.32l-1.32,1.32l-1.32,-1.32z" fill="#1a3ce0"/>
<path d="M314.6,94.1l1.12,1.12l-1.12,1.12l-1.12,-1.12z" fill="#1a3ce0"/>
<path d="M310.6,65.3l1.14,1.14l-1.14,1.14l-1.14,-1.14z" fill="#5aa0f0"/>
<path d="M317.7,48.4l1.35,1.35l-1.35,1.35l-1.35,-1.35z" fill="#1a3ce0"/>
<path d="M316.3,73.1l1.10,1.10l-1.10,1.10l-1.10,-1.10z" fill="#0c22a8"/>
<path d="M310.5,66.7l1.14,1.14l-1.14,1.14l-1.14,-1.14z" fill="#5aa0f0"/>
<path d="M316.9,72.8l1.36,1.36l-1.36,1.36l-1.36,-1.36z" fill="#0c22a8"/>
<path d="M306.3,83.1l1.18,1.18l-1.18,1.18l-1.18,-1.18z" fill="#0c22a8"/>
<path d="M314.8,83.2l1.21,1.21l-1.21,1.21l-1.21,-1.21z" fill="#0c22a8"/>
<path d="M314.0,43.8l1.16,1.16l-1.16,1.16l-1.16,-1.16z" fill="#1a3ce0"/>
<path d="M310.3,96.2l1.33,1.33l-1.33,1.33l-1.33,-1.33z" fill="#0c22a8"/>
<path d="M307.4,25.5l1.11,1.11l-1.11,1.11l-1.11,-1.11z" fill="#c04050"/>
<path d="M309.0,15.8l1.12,1.12l-1.12,1.12l-1.12,-1.12z" fill="#1a3ce0"/>
<path d="M305.6,106.7l1.00,1.00l-1.00,1.00l-1.00,-1.00z" fill="#8a8a8a"/>
<path d="M309.8,56.1l1.02,1.02l-1.02,1.02l-1.02,-1.02z" fill="#1a3ce0"/>
<path d="M317.5,51.2l1.39,1.39l-1.39,1.39l-1.39,-1.39z" fill="#0c22a8"/>
<path d="M313.2,67.4l1.24,1.24l-1.24,1.24l-1.24,-1.24z" fill="#1a3ce0"/>
<path d="M314.5,87.9l1.29,1.29l-1.29,1.29l-1.29,-1.29z" fill="#1a3ce0"/>
<path d="M307.3,50.6l1.08,1.08l-1.08,1.08l-1.08,-1.08z" fill="#1a3ce0"/>
<path d="M303.0,24.4l0.65,0.65l-0.65,0.65l-0.65,-0.65z" fill="#8a3040"/>
<path d="M314.3,23.1l1.30,1.30l-1.30,1.30l-1.30,-1.30z" fill="#1a3ce0"/>
<path d="M313.2,32.4l1.32,1.32l-1.32,1.32l-1.32,-1.32z" fill="#1a3ce0"/>
<path d="M313.8,78.1l1.31,1.31l-1.31,1.31l-1.31,-1.31z" fill="#0c22a8"/>
<path d="M306.6,74.1l1.10,1.10l-1.10,1.10l-1.10,-1.10z" fill="#c04050"/>
<path d="M307.2,75.8l1.12,1.12l-1.12,1.12l-1.12,-1.12z" fill="#38c4ea"/>
<path d="M311.9,56.8l1.31,1.31l-1.31,1.31l-1.31,-1.31z" fill="#0c22a8"/>
<path d="M299.6,87.7l0.67,0.67l-0.67,0.67l-0.67,-0.67z" fill="#b07060"/>
<path d="M304.7,18.6l1.05,1.05l-1.05,1.05l-1.05,-1.05z" fill="#1a3ce0"/>
<path d="M316.4,83.2l1.28,1.28l-1.28,1.28l-1.28,-1.28z" fill="#1a3ce0"/>
<path d="M312.7,103.1l1.18,1.18l-1.18,1.18l-1.18,-1.18z" fill="#6f86e8"/>
<path d="M315.5,63.8l1.07,1.07l-1.07,1.07l-1.07,-1.07z" fill="#1a3ce0"/>
<path d="M306.8,18.2l0.98,0.98l-0.98,0.98l-0.98,-0.98z" fill="#0c22a8"/>
<path d="M315.5,73.6l1.10,1.10l-1.10,1.10l-1.10,-1.10z" fill="#1a3ce0"/>
<path d="M317.4,57.5l1.28,1.28l-1.28,1.28l-1.28,-1.28z" fill="#1a3ce0"/>
<path d="M314.8,46.0l1.24,1.24l-1.24,1.24l-1.24,-1.24z" fill="#1a3ce0"/>
<path d="M315.5,79.4l1.27,1.27l-1.27,1.27l-1.27,-1.27z" fill="#0c22a8"/>
<path d="M306.5,44.7l0.87,0.87l-0.87,0.87l-0.87,-0.87z" fill="#8a8a8a"/>
<path d="M311.6,108.0l1.25,1.25l-1.25,1.25l-1.25,-1.25z" fill="#6f86e8"/>
<path d="M313.2,80.9l1.36,1.36l-1.36,1.36l-1.36,-1.36z" fill="#1a3ce0"/>
<path d="M310.6,26.1l1.24,1.24l-1.24,1.24l-1.24,-1.24z" fill="#0c22a8"/>
<path d="M315.6,44.2l1.32,1.32l-1.32,1.32l-1.32,-1.32z" fill="#0c22a8"/>
<path d="M310.6,40.4l1.18,1.18l-1.18,1.18l-1.18,-1.18z" fill="#0c22a8"/>
<path d="M298.4,100.5l0.74,0.74l-0.74,0.74l-0.74,-0.74z" fill="#b04050"/>
<path d="M317.2,52.4l1.12,1.12l-1.12,1.12l-1.12,-1.12z" fill="#0c22a8"/>
<path d="M315.6,24.2l1.07,1.07l-1.07,1.07l-1.07,-1.07z" fill="#1a3ce0"/>
<path d="M299.6,88.2l0.76,0.76l-0.76,0.76l-0.76,-0.76z" fill="#2050c0"/>
<path d="M314.5,75.4l1.19,1.19l-1.19,1.19l-1.19,-1.19z" fill="#6f86e8"/>
<path d="M314.7,79.9l1.14,1.14l-1.14,1.14l-1.14,-1.14z" fill="#0c22a8"/>
<path d="M309.1,60.3l1.23,1.23l-1.23,1.23l-1.23,-1.23z" fill="#5a9cf0"/>
<path d="M310.6,56.5l1.30,1.30l-1.30,1.30l-1.30,-1.30z" fill="#6f86e8"/>
<path d="M303.9,80.2l0.70,0.70l-0.70,0.70l-0.70,-0.70z" fill="#706060"/>
<path d="M313.7,107.3l1.20,1.20l-1.20,1.20l-1.20,-1.20z" fill="#1a3ce0"/>
<path d="M310.8,100.8l1.11,1.11l-1.11,1.11l-1.11,-1.11z" fill="#1a3ce0"/>
<path d="M314.5,54.2l1.37,1.37l-1.37,1.37l-1.37,-1.37z" fill="#6f86e8"/>
<path d="M317.0,75.9l1.21,1.21l-1.21,1.21l-1.21,-1.21z" fill="#6f86e8"/>
<path d="M314.0,88.8l1.26,1.26l-1.26,1.26l-1.26,-1.26z" fill="#1a3ce0"/>
<path d="M305.9,78.7l1.06,1.06l-1.06,1.06l-1.06,-1.06z" fill="#a08078"/>
<path d="M312.2,48.2l1.13,1.13l-1.13,1.13l-1.13,-1.13z" fill="#0c22a8"/>
<path d="M314.1,89.8l1.13,1.13l-1.13,1.13l-1.13,-1.13z" fill="#0c22a8"/>
<path d="M310.3,28.5l1.25,1.25l-1.25,1.25l-1.25,-1.25z" fill="#6f86e8"/>
<path d="M312.0,72.1l1.24,1.24l-1.24,1.24l-1.24,-1.24z" fill="#0c22a8"/>
<path d="M317.4,68.3l1.29,1.29l-1.29,1.29l-1.29,-1.29z" fill="#0c22a8"/>
<path d="M310.0,101.2l1.15,1.15l-1.15,1.15l-1.15,-1.15z" fill="#1a3ce0"/>
<path d="M312.2,90.0l1.09,1.09l-1.09,1.09l-1.09,-1.09z" fill="#a08078"/>
<path d="M312.9,81.6l1.21,1.21l-1.21,1.21l-1.21,-1.21z" fill="#6f86e8"/>
<path d="M308.3,38.1l0.92,0.92l-0.92,0.92l-0.92,-0.92z" fill="#0c22a8"/>
<path d="M308.0,35.0l1.01,1.01l-1.01,1.01l-1.01,-1.01z" fill="#5a9cf0"/>
<path d="M311.0,48.2l1.15,1.15l-1.15,1.15l-1.15,-1.15z" fill="#5aa0f0"/>
<path d="M316.7,53.9l1.35,1.35l-1.35,1.35l-1.35,-1.35z" fill="#6f86e8"/>
<path d="M314.8,40.8l1.07,1.07l-1.07,1.07l-1.07,-1.07z" fill="#1a3ce0"/>
<path d="M310.3,21.6l1.21,1.21l-1.21,1.21l-1.21,-1.21z" fill="#0c22a8"/>
<path d="M306.1,17.7l1.12,1.12l-1.12,1.12l-1.12,-1.12z" fill="#d09050"/>
<path d="M314.9,104.1l1.16,1.16l-1.16,1.16l-1.16,-1.16z" fill="#0c22a8"/>
<path d="M313.9,13.6l1.36,1.36l-1.36,1.36l-1.36,-1.36z" fill="#0c22a8"/>
<path d="M310.9,86.3l1.32,1.32l-1.32,1.32l-1.32,-1.32z" fill="#0c22a8"/>
<path d="M308.2,104.3l1.11,1.11l-1.11,1.11l-1.11,-1.11z" fill="#1a3ce0"/>
<path d="M310.1,94.0l1.40,1.40l-1.40,1.40l-1.40,-1.40z" fill="#0c22a8"/>
<path d="M313.4,93.4l1.30,1.30l-1.30,1.30l-1.30,-1.30z" fill="#1a3ce0"/>
<path d="M312.5,26.4l1.15,1.15l-1.15,1.15l-1.15,-1.15z" fill="#1a3ce0"/>
<path d="M304.6,101.4l0.88,0.88l-0.88,0.88l-0.88,-0.88z" fill="#0c22a8"/>
<path d="M315.2,53.9l1.08,1.08l-1.08,1.08l-1.08,-1.08z" fill="#1a3ce0"/>
<path d="M312.2,33.0l1.05,1.05l-1.05,1.05l-1.05,-1.05z" fill="#1a3ce0"/>
<path d="M296.7,58.5l0.88,0.88l-0.88,0.88l-0.88,-0.88z" fill="#b07060"/>
<path d="M314.9,64.8l1.36,1.36l-1.36,1.36l-1.36,-1.36z" fill="#a08078"/>
<path d="M317.1,60.6l1.34,1.34l-1.34,1.34l-1.34,-1.34z" fill="#6f86e8"/>
<path d="M308.7,48.8l1.19,1.19l-1.19,1.19l-1.19,-1.19z" fill="#a08078"/>
<path d="M313.1,36.6l1.26,1.26l-1.26,1.26l-1.26,-1.26z" fill="#a08078"/>
<path d="M315.3,21.5l1.28,1.28l-1.28,1.28l-1.28,-1.28z" fill="#1a3ce0"/>
<path d="M310.2,15.4l1.39,1.39l-1.39,1.39l-1.39,-1.39z" fill="#1a3ce0"/>
<path d="M315.5,31.7l1.34,1.34l-1.34,1.34l-1.34,-1.34z" fill="#0c22a8"/>
<path d="M313.4,95.6l1.14,1.14l-1.14,1.14l-1.14,-1.14z" fill="#6f86e8"/>
<path d="M307.2,87.9l1.17,1.17l-1.17,1.17l-1.17,-1.17z" fill="#0c22a8"/>
<path d="M309.8,103.9l1.24,1.24l-1.24,1.24l-1.24,-1.24z" fill="#0c22a8"/>
<path d="M317.3,67.8l1.40,1.40l-1.40,1.40l-1.40,-1.40z" fill="#1a3ce0"/>
<path d="M312.0,15.6l1.17,1.17l-1.17,1.17l-1.17,-1.17z" fill="#0c22a8"/>
<path d="M312.4,49.9l1.36,1.36l-1.36,1.36l-1.36,-1.36z" fill="#1a3ce0"/>
<path d="M315.0,45.8l1.36,1.36l-1.36,1.36l-1.36,-1.36z" fill="#1a3ce0"/>
<path d="M308.2,13.4l1.27,1.27l-1.27,1.27l-1.27,-1.27z" fill="#1a3ce0"/>
<path d="M309.8,104.5l1.14,1.14l-1.14,1.14l-1.14,-1.14z" fill="#5aa0f0"/>
<path d="M309.1,83.0l0.89,0.89l-0.89,0.89l-0.89,-0.89z" fill="#5a9cf0"/>
<path d="M311.8,91.6l1.08,1.08l-1.08,1.08l-1.08,-1.08z" fill="#1a3ce0"/>
<path d="M312.7,47.5l1.26,1.26l-1.26,1.26l-1.26,-1.26z" fill="#6f86e8"/>
<path d="M313.8,75.9l1.19,1.19l-1.19,1.19l-1.19,-1.19z" fill="#1a3ce0"/>
<path d="M311.2,15.5l1.29,1.29l-1.29,1.29l-1.29,-1.29z" fill="#1a3ce0"/>
<path d="M309.6,40.0l1.09,1.09l-1.09,1.09l-1.09,-1.09z" fill="#1a3ce0"/>
<path d="M312.6,12.8l1.28,1.28l-1.28,1.28l-1.28,-1.28z" fill="#1a3ce0"/>
<path d="M309.3,59.2l1.22,1.22l-1.22,1.22l-1.22,-1.22z" fill="#1a3ce0"/>
<path d="M308.6,105.4l1.38,1.38l-1.38,1.38l-1.38,-1.38z" fill="#1a3ce0"/>
<path d="M314.7,83.8l1.26,1.26l-1.26,1.26l-1.26,-1.26z" fill="#6f86e8"/>
<path d="M310.6,85.1l1.30,1.30l-1.30,1.30l-1.30,-1.30z" fill="#6f86e8"/>
<path d="M311.1,56.0l1.28,1.28l-1.28,1.28l-1.28,-1.28z" fill="#0c22a8"/>
<path d="M313.1,87.6l1.14,1.14l-1.14,1.14l-1.14,-1.14z" fill="#1a3ce0"/>
<path d="M311.1,65.2l1.09,1.09l-1.09,1.09l-1.09,-1.09z" fill="#1a3ce0"/>
<path d="M315.6,97.2l1.08,1.08l-1.08,1.08l-1.08,-1.08z" fill="#1a3ce0"/>
<path d="M306.4,99.1l1.15,1.15l-1.15,1.15l-1.15,-1.15z" fill="#38c4ea"/>
<path d="M305.4,97.0l0.90,0.90l-0.90,0.90l-0.90,-0.90z" fill="#5a9cf0"/>
<path d="M314.9,37.1l1.12,1.12l-1.12,1.12l-1.12,-1.12z" fill="#0c22a8"/>
<path d="M312.4,29.8l1.17,1.17l-1.17,1.17l-1.17,-1.17z" fill="#0c22a8"/>
<rect x="226.3" y="24.3" width="61.1" height="66.6" fill="#fff" stroke="#9c9c9c" stroke-width="0.9"/>
<line x1="226.30" y1="90.9" x2="226.30" y2="89.7" stroke="#9c9c9c" stroke-width="0.8"/>
<line x1="226.30" y1="24.3" x2="226.30" y2="25.5" stroke="#9c9c9c" stroke-width="0.8"/>
<line x1="256.85" y1="90.9" x2="256.85" y2="89.7" stroke="#9c9c9c" stroke-width="0.8"/>
<line x1="256.85" y1="24.3" x2="256.85" y2="25.5" stroke="#9c9c9c" stroke-width="0.8"/>
<line x1="287.40" y1="90.9" x2="287.40" y2="89.7" stroke="#9c9c9c" stroke-width="0.8"/>
<line x1="287.40" y1="24.3" x2="287.40" y2="25.5" stroke="#9c9c9c" stroke-width="0.8"/>
<line x1="226.3" y1="56.4" x2="227.5" y2="56.4" stroke="#9c9c9c" stroke-width="0.8"/>
<line x1="287.4" y1="56.4" x2="286.2" y2="56.4" stroke="#9c9c9c" stroke-width="0.8"/>
<text x="212.80" y="58.40" text-anchor="start" font-size="7.8" fill="#1a1a1a" style="" >π</text>
<text x="217.20" y="58.90" text-anchor="start" font-size="8.424" fill="#1a1a1a" style="" >/</text>
<text x="220.90" y="58.40" text-anchor="start" font-size="7.8" fill="#1a1a1a" style="" >2</text>
<text x="224.40" y="92.20" text-anchor="end" font-size="7.8" fill="#1a1a1a" style="" >0</text>
<text x="226.90" y="99.80" text-anchor="middle" font-size="7.8" fill="#1a1a1a" style="" >0.10</text>
<text x="257.45" y="99.80" text-anchor="middle" font-size="7.8" fill="#1a1a1a" style="" >0.15</text>
<text x="288.00" y="99.80" text-anchor="middle" font-size="7.8" fill="#1a1a1a" style="" >0.20</text>
<path d="M261,29 C262.8,36 265.4,45 265.9,55 C266.2,63 264,70 262.2,78 L261.2,78 C260.8,60 260.6,45 260.8,29 Z" fill="#86a4ee"/>
<path d="M261,29 C262.8,36 265.4,45 265.9,55 C266.2,63 264,70 262.2,78" fill="none" stroke="#3a62dc" stroke-width="0.9"/>
<path d="M262.2,30 C263.6,45 263.4,62 262.2,78" fill="none" stroke="#3a62dc" stroke-width="0.7"/>
<path d="M260.9,29 C260.6,45 260.7,70 261.5,90" fill="none" stroke="#1836c0" stroke-width="1.5"/>
<path d="M253.6,24.5 C251.2,35 250.7,50 250.9,64 C251.1,76 252.5,85 254,90" fill="none" stroke="#2a50d4" stroke-width="1.15"/>
<path d="M254,89.6 L262.4,73" fill="none" stroke="#2a50d4" stroke-width="1.1"/>
<path d="M253.6,24.5 L256.5,43.5" fill="none" stroke="#2a50d4" stroke-width="0.9"/>
<circle cx="261.1" cy="27.9" r="2.2" fill="#e8101c"/>
<rect x="254.9" y="41.9" width="3.2" height="3.2" fill="#e8101c"/>
<rect x="47.5" y="169.5" width="61.0" height="50.6" fill="#fff" stroke="#9c9c9c" stroke-width="0.9"/>
<line x1="47.5" y1="189.6" x2="48.7" y2="189.6" stroke="#9c9c9c" stroke-width="0.8"/>
<line x1="108.5" y1="189.6" x2="107.3" y2="189.6" stroke="#9c9c9c" stroke-width="0.8"/>
<text x="32.80" y="191.80" text-anchor="start" font-size="7.8" fill="#1a1a1a" style="" >π</text>
<text x="37.20" y="192.30" text-anchor="start" font-size="8.424" fill="#1a1a1a" style="" >/</text>
<text x="40.90" y="191.80" text-anchor="start" font-size="7.8" fill="#1a1a1a" style="" >2</text>
<text x="47.60" y="229.80" text-anchor="middle" font-size="8.1" fill="#1a1a1a" style="" >0.1275</text>
<text x="108.60" y="229.80" text-anchor="middle" font-size="8.1" fill="#1a1a1a" style="" >0.1276</text>
<ellipse cx="67.75" cy="197.4" rx="7.7" ry="14.1" fill="none" stroke="#0e2096" stroke-width="2.15"/>
<rect x="114.5" y="191.4" width="2.3" height="6" rx="1.15" ry="1.6" fill="#16289e"/>
<path d="M236.7,145 C234.4,175 234.4,210 236.4,241.5" fill="none" stroke="#ec7088" stroke-width="0.9"/>
<path d="M236.7,145 C238.9,175 238.9,210 236.4,241.5" fill="none" stroke="#d890a8" stroke-width="0.9"/>
<path d="M236.7,145 C234.4,175 234.4,210 236.4,241.5" fill="none" stroke="#ac0a2e" stroke-width="1.7" stroke-dasharray="1.5 1.5"/>
<path d="M236.7,145 C238.9,175 238.9,210 236.4,241.5" fill="none" stroke="#7a1a3a" stroke-width="1.7" stroke-dasharray="1.5 1.5" stroke-dashoffset="0.7"/>
<rect x="290.75" y="175.4" width="3.3" height="38.4" rx="1.65" ry="6" fill="#707070"/>
<path d="M321.7,145 C321.0,160 320.9,175 321.0,195 C321.1,215 321.3,230 321.8,241.5 L321.8,241.5 C322.2,236 322.8,230 323.4,220 C324.2,208 324.3,195 323.6,182 C322.8,168 322.0,158 321.7,145Z" fill="#b4c4f2"/>
<path d="M321.7,145 C321.0,160 320.9,175 321.0,195 C321.1,215 321.3,230 321.8,241.5" fill="none" stroke="#1634c4" stroke-width="1.8" stroke-dasharray="5 1"/>
<path d="M321.7,145 C322.0,158 322.8,168 323.6,182 C324.3,195 324.2,208 323.4,220 C322.8,230 322.2,236 321.8,241.5" fill="none" stroke="#10229c" stroke-width="1.4"/>
</g>
</svg></body></html>
